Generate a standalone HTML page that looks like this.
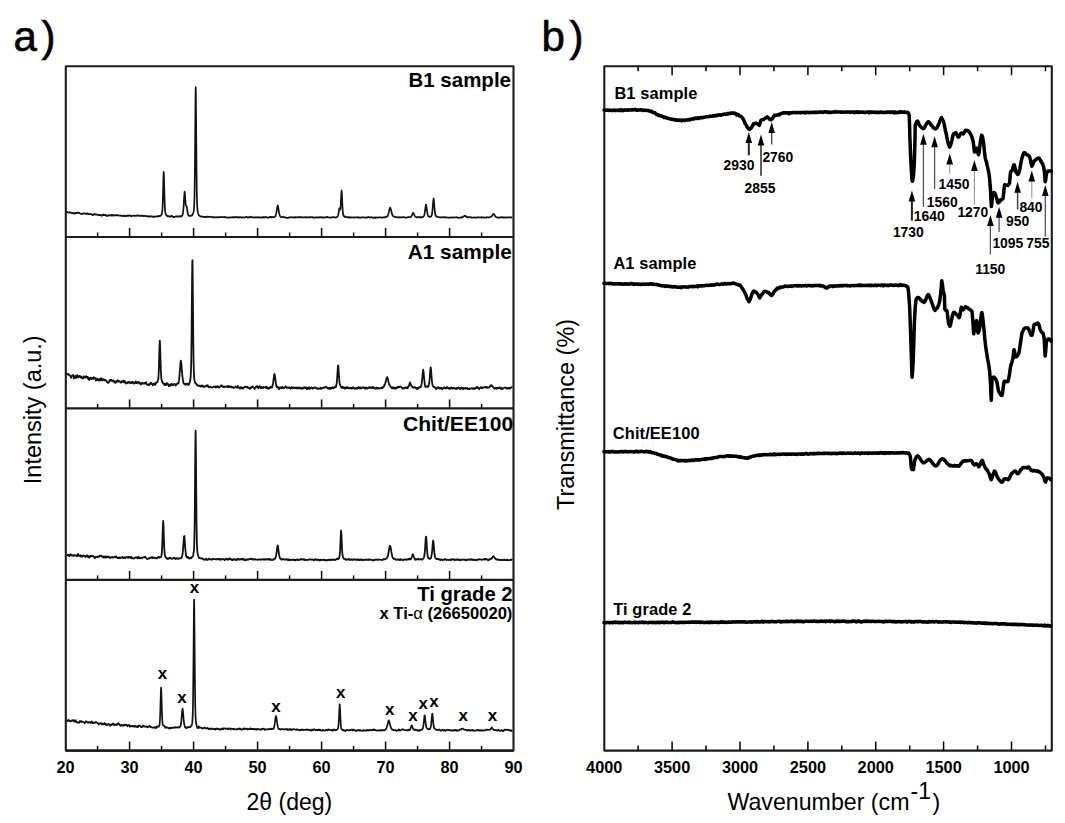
<!DOCTYPE html>
<html><head><meta charset="utf-8"><style>
html,body{margin:0;padding:0;background:#fff;}
body{width:1065px;height:823px;overflow:hidden;font-family:"Liberation Sans",sans-serif;}
svg{display:block;}
</style></head><body>
<svg width="1065" height="823" viewBox="0 0 1065 823">
<rect x="65.8" y="66.2" width="447.7" height="684.4" fill="none" stroke="#1c1c1c" stroke-width="2.1" stroke-linejoin="round"/>
<line x1="65.8" y1="237.0" x2="513.5" y2="237.0" stroke="#1c1c1c" stroke-width="2.1"/>
<line x1="65.8" y1="408.4" x2="513.5" y2="408.4" stroke="#1c1c1c" stroke-width="2.1"/>
<line x1="65.8" y1="579.9" x2="513.5" y2="579.9" stroke="#1c1c1c" stroke-width="2.1"/>
<line x1="65.8" y1="750.6" x2="513.5" y2="750.6" stroke="#1c1c1c" stroke-width="2.1"/>
<path d="M97.6,237.0 V232.5 M129.6,237.0 V228.0 M161.6,237.0 V232.5 M193.6,237.0 V228.0 M225.6,237.0 V232.5 M257.6,237.0 V228.0 M289.6,237.0 V232.5 M321.6,237.0 V228.0 M353.6,237.0 V232.5 M385.6,237.0 V228.0 M417.6,237.0 V232.5 M449.6,237.0 V228.0 M481.6,237.0 V232.5 M97.6,408.4 V403.9 M129.6,408.4 V399.4 M161.6,408.4 V403.9 M193.6,408.4 V399.4 M225.6,408.4 V403.9 M257.6,408.4 V399.4 M289.6,408.4 V403.9 M321.6,408.4 V399.4 M353.6,408.4 V403.9 M385.6,408.4 V399.4 M417.6,408.4 V403.9 M449.6,408.4 V399.4 M481.6,408.4 V403.9 M97.6,579.9 V575.4 M129.6,579.9 V570.9 M161.6,579.9 V575.4 M193.6,579.9 V570.9 M225.6,579.9 V575.4 M257.6,579.9 V570.9 M289.6,579.9 V575.4 M321.6,579.9 V570.9 M353.6,579.9 V575.4 M385.6,579.9 V570.9 M417.6,579.9 V575.4 M449.6,579.9 V570.9 M481.6,579.9 V575.4 M97.6,750.6 V746.1 M129.6,750.6 V741.6 M161.6,750.6 V746.1 M193.6,750.6 V741.6 M225.6,750.6 V746.1 M257.6,750.6 V741.6 M289.6,750.6 V746.1 M321.6,750.6 V741.6 M353.6,750.6 V746.1 M385.6,750.6 V741.6 M417.6,750.6 V746.1 M449.6,750.6 V741.6 M481.6,750.6 V746.1" stroke="#000" stroke-width="1.5" fill="none"/>
<path d="M66.50,211.96 L66.83,211.91 L67.16,211.84 L67.49,211.75 L67.82,212.48 L68.15,212.53 L68.48,212.74 L68.81,212.60 L69.14,212.75 L69.47,212.36 L69.80,212.47 L70.13,212.35 L70.46,212.67 L70.79,212.64 L71.12,212.56 L71.45,212.99 L71.78,212.84 L72.11,213.25 L72.44,213.21 L72.77,212.96 L73.10,213.10 L73.43,213.69 L73.76,213.16 L74.09,213.23 L74.42,213.51 L74.75,213.17 L75.08,212.90 L75.41,213.18 L75.74,212.77 L76.07,213.42 L76.40,213.17 L76.73,212.85 L77.06,213.21 L77.39,212.93 L77.72,212.48 L78.05,212.74 L78.38,212.97 L78.71,212.89 L79.04,212.74 L79.37,213.12 L79.70,213.34 L80.03,213.41 L80.36,213.63 L80.69,213.94 L81.02,213.92 L81.35,213.81 L81.68,213.60 L82.01,213.98 L82.34,213.75 L82.67,213.65 L83.00,213.52 L83.33,213.77 L83.66,213.43 L83.99,213.38 L84.32,213.47 L84.65,213.27 L84.98,213.26 L85.31,213.73 L85.64,213.83 L85.97,213.56 L86.30,213.52 L86.63,213.46 L86.96,214.03 L87.29,213.68 L87.62,213.51 L87.95,214.13 L88.28,213.94 L88.61,214.23 L88.94,213.85 L89.27,213.96 L89.60,214.20 L89.93,214.00 L90.26,214.02 L90.59,214.08 L90.92,213.86 L91.25,214.07 L91.58,214.32 L91.91,214.67 L92.24,214.78 L92.57,215.07 L92.90,214.66 L93.23,214.82 L93.56,214.48 L93.89,214.63 L94.22,213.96 L94.55,214.34 L94.88,214.15 L95.21,214.58 L95.54,214.48 L95.87,214.29 L96.20,214.41 L96.53,214.66 L96.86,214.69 L97.19,214.75 L97.52,214.70 L97.85,214.93 L98.18,214.91 L98.51,214.98 L98.84,215.21 L99.17,214.97 L99.50,214.98 L99.83,214.76 L100.16,215.15 L100.49,214.96 L100.82,215.08 L101.15,215.28 L101.48,215.73 L101.81,215.33 L102.14,215.72 L102.47,215.06 L102.80,214.76 L103.13,214.41 L103.46,215.17 L103.79,214.90 L104.12,215.13 L104.45,214.90 L104.78,215.26 L105.11,214.97 L105.44,214.76 L105.77,215.33 L106.10,215.35 L106.43,215.70 L106.76,215.54 L107.09,216.03 L107.42,215.53 L107.75,215.81 L108.08,215.41 L108.41,215.52 L108.74,215.20 L109.07,215.33 L109.40,215.37 L109.73,215.23 L110.06,215.15 L110.39,215.64 L110.72,215.16 L111.05,214.92 L111.38,215.32 L111.71,215.60 L112.04,214.95 L112.37,215.36 L112.70,215.53 L113.03,215.34 L113.36,214.90 L113.69,215.38 L114.02,215.06 L114.35,215.33 L114.68,215.57 L115.01,215.51 L115.34,215.38 L115.67,215.37 L116.00,215.17 L116.33,215.32 L116.66,214.91 L116.99,215.08 L117.32,215.42 L117.65,215.24 L117.98,215.45 L118.31,215.25 L118.64,215.47 L118.97,215.61 L119.30,215.76 L119.63,215.50 L119.96,215.67 L120.29,215.64 L120.62,215.68 L120.95,215.42 L121.28,215.86 L121.61,215.93 L121.94,215.69 L122.27,215.78 L122.60,216.18 L122.93,216.00 L123.26,215.78 L123.59,215.75 L123.92,215.62 L124.25,215.69 L124.58,216.23 L124.91,215.86 L125.24,216.26 L125.57,215.80 L125.90,215.93 L126.23,215.90 L126.56,215.94 L126.89,215.65 L127.22,216.02 L127.55,215.55 L127.88,215.80 L128.21,215.85 L128.54,215.91 L128.87,215.36 L129.20,215.49 L129.53,215.33 L129.86,215.31 L130.19,215.61 L130.52,216.02 L130.85,216.08 L131.18,216.19 L131.51,216.16 L131.84,215.88 L132.17,215.96 L132.50,215.92 L132.83,215.73 L133.16,215.74 L133.49,215.51 L133.82,215.79 L134.15,215.68 L134.48,215.77 L134.81,215.76 L135.14,215.99 L135.47,215.93 L135.80,215.63 L136.13,215.94 L136.46,215.57 L136.79,215.70 L137.12,215.60 L137.45,215.29 L137.78,215.55 L138.11,215.46 L138.44,215.60 L138.77,215.74 L139.10,215.70 L139.43,215.87 L139.76,215.92 L140.09,215.83 L140.42,215.55 L140.75,215.93 L141.08,215.78 L141.41,215.89 L141.74,215.96 L142.07,215.80 L142.40,215.60 L142.73,215.68 L143.06,216.06 L143.39,216.18 L143.72,216.15 L144.05,215.65 L144.38,215.80 L144.71,215.97 L145.04,216.02 L145.37,216.17 L145.70,216.09 L146.03,216.07 L146.36,216.20 L146.69,215.94 L147.02,216.15 L147.35,216.30 L147.68,216.58 L148.01,216.21 L148.34,216.39 L148.67,216.61 L149.00,216.46 L149.33,216.66 L149.66,216.11 L149.99,216.50 L150.32,216.49 L150.65,216.68 L150.98,216.31 L151.31,216.46 L151.64,216.14 L151.97,216.27 L152.30,216.56 L152.63,216.63 L152.96,216.90 L153.29,216.75 L153.62,216.94 L153.95,216.96 L154.28,216.38 L154.61,216.76 L154.94,216.68 L155.27,216.63 L155.60,216.45 L155.93,216.65 L156.26,216.49 L156.59,216.40 L156.92,216.35 L157.25,216.51 L157.58,216.63 L157.91,216.22 L158.24,216.20 L158.57,216.15 L158.90,215.88 L159.23,216.16 L159.56,216.28 L159.89,216.13 L160.22,216.07 L160.55,215.61 L160.88,215.20 L161.21,214.72 L161.54,214.62 L161.87,213.86 L162.20,212.07 L162.53,208.14 L162.86,199.31 L163.19,186.39 L163.52,174.30 L163.70,171.81 L163.85,173.29 L164.18,184.77 L164.51,198.13 L164.84,206.98 L165.17,211.64 L165.50,213.35 L165.83,214.56 L166.16,214.85 L166.49,215.30 L166.82,215.55 L167.15,215.86 L167.48,216.28 L167.81,216.29 L168.14,216.02 L168.47,216.08 L168.80,216.25 L169.13,216.23 L169.46,216.72 L169.79,216.41 L170.12,216.35 L170.45,216.05 L170.78,216.48 L171.11,216.19 L171.44,216.35 L171.77,215.95 L172.10,216.09 L172.43,216.24 L172.76,216.40 L173.09,216.97 L173.42,217.19 L173.75,217.10 L174.08,216.88 L174.41,217.10 L174.74,216.83 L175.07,216.74 L175.40,216.73 L175.73,216.37 L176.06,216.23 L176.39,216.38 L176.72,216.59 L177.05,216.25 L177.38,216.55 L177.71,216.70 L178.04,216.36 L178.37,216.39 L178.70,216.35 L179.03,216.58 L179.36,216.30 L179.69,216.43 L180.02,216.49 L180.35,216.26 L180.68,216.23 L181.01,215.91 L181.34,216.50 L181.67,215.98 L182.00,215.63 L182.33,215.32 L182.66,214.65 L182.99,212.90 L183.32,210.37 L183.65,206.15 L183.98,200.21 L184.31,194.23 L184.60,191.78 L184.64,191.68 L184.97,194.51 L185.30,199.81 L185.63,203.69 L185.96,205.51 L186.29,206.03 L186.62,206.18 L186.95,207.74 L187.28,210.27 L187.61,212.83 L187.94,214.09 L188.27,214.95 L188.60,215.58 L188.93,215.99 L189.26,215.90 L189.59,215.75 L189.92,215.75 L190.25,215.88 L190.58,215.80 L190.91,215.53 L191.24,215.62 L191.57,215.76 L191.90,215.59 L192.23,215.02 L192.56,214.48 L192.89,214.07 L193.22,213.08 L193.55,211.88 L193.88,209.94 L194.21,205.68 L194.54,195.18 L194.87,171.57 L195.20,132.56 L195.53,93.94 L195.70,87.00 L195.86,93.11 L196.19,131.51 L196.52,170.61 L196.85,194.87 L197.18,205.51 L197.51,210.49 L197.84,212.38 L198.17,213.51 L198.50,214.33 L198.83,215.12 L199.16,215.47 L199.49,215.72 L199.82,215.88 L200.15,216.26 L200.48,216.37 L200.81,216.48 L201.14,216.55 L201.47,216.50 L201.80,216.53 L202.13,216.54 L202.46,216.68 L202.79,216.70 L203.12,216.75 L203.45,216.98 L203.78,217.09 L204.11,217.12 L204.44,216.85 L204.77,217.02 L205.10,217.19 L205.43,217.15 L205.76,216.96 L206.09,216.94 L206.42,216.68 L206.75,216.75 L207.08,217.06 L207.41,216.77 L207.74,216.61 L208.07,216.77 L208.40,216.91 L208.73,216.95 L209.06,217.00 L209.39,216.90 L209.72,216.79 L210.05,216.84 L210.38,216.68 L210.71,216.69 L211.04,216.67 L211.37,216.83 L211.70,217.04 L212.03,217.00 L212.36,217.04 L212.69,217.26 L213.02,217.08 L213.35,217.28 L213.68,217.31 L214.01,217.22 L214.34,217.20 L214.67,217.49 L215.00,217.46 L215.33,217.44 L215.66,217.37 L215.99,217.19 L216.32,217.11 L216.65,217.39 L216.98,217.41 L217.31,217.07 L217.64,217.21 L217.97,217.32 L218.30,217.40 L218.63,217.41 L218.96,217.46 L219.29,217.10 L219.62,217.21 L219.95,216.97 L220.28,217.18 L220.61,217.11 L220.94,217.01 L221.27,217.02 L221.60,217.24 L221.93,217.22 L222.26,217.05 L222.59,217.23 L222.92,216.98 L223.25,216.99 L223.58,217.16 L223.91,217.02 L224.24,217.13 L224.57,216.80 L224.90,217.11 L225.23,217.11 L225.56,217.19 L225.89,217.47 L226.22,217.27 L226.55,217.47 L226.88,217.64 L227.21,217.66 L227.54,217.68 L227.87,217.55 L228.20,217.56 L228.53,217.32 L228.86,217.30 L229.19,217.56 L229.52,217.55 L229.85,217.59 L230.18,217.34 L230.51,217.47 L230.84,217.35 L231.17,217.30 L231.50,217.36 L231.83,217.50 L232.16,217.26 L232.49,217.13 L232.82,217.17 L233.15,217.25 L233.48,217.54 L233.81,217.15 L234.14,217.41 L234.47,217.24 L234.80,217.03 L235.13,216.96 L235.46,217.24 L235.79,217.18 L236.12,217.46 L236.45,217.07 L236.78,217.05 L237.11,217.29 L237.44,217.36 L237.77,217.29 L238.10,217.14 L238.43,217.66 L238.76,217.44 L239.09,217.28 L239.42,217.11 L239.75,217.27 L240.08,217.09 L240.41,217.14 L240.74,217.23 L241.07,217.56 L241.40,217.31 L241.73,217.36 L242.06,217.65 L242.39,217.52 L242.72,217.24 L243.05,217.36 L243.38,217.43 L243.71,217.33 L244.04,217.40 L244.37,217.67 L244.70,217.34 L245.03,217.31 L245.36,217.09 L245.69,217.22 L246.02,217.05 L246.35,216.88 L246.68,217.01 L247.01,217.09 L247.34,217.35 L247.67,217.21 L248.00,217.62 L248.33,217.24 L248.66,217.43 L248.99,217.58 L249.32,217.26 L249.65,217.13 L249.98,216.85 L250.31,216.65 L250.64,216.77 L250.97,216.76 L251.30,217.21 L251.63,217.40 L251.96,217.20 L252.29,217.25 L252.62,217.24 L252.95,217.32 L253.28,217.36 L253.61,217.22 L253.94,217.34 L254.27,217.25 L254.60,217.58 L254.93,217.49 L255.26,217.44 L255.59,217.43 L255.92,217.25 L256.25,217.12 L256.58,217.33 L256.91,217.55 L257.24,217.48 L257.57,217.45 L257.90,217.30 L258.23,217.45 L258.56,217.12 L258.89,217.50 L259.22,217.28 L259.55,217.70 L259.88,217.46 L260.21,217.44 L260.54,217.29 L260.87,217.37 L261.20,217.42 L261.53,217.56 L261.86,217.27 L262.19,217.29 L262.52,217.73 L262.85,217.34 L263.18,217.19 L263.51,217.21 L263.84,216.98 L264.17,217.56 L264.50,217.40 L264.83,217.05 L265.16,217.43 L265.49,217.19 L265.82,216.98 L266.15,217.27 L266.48,217.49 L266.81,217.39 L267.14,217.42 L267.47,217.60 L267.80,217.59 L268.13,217.65 L268.46,217.67 L268.79,217.51 L269.12,217.30 L269.45,216.92 L269.78,217.07 L270.11,216.92 L270.44,217.25 L270.77,216.97 L271.10,217.33 L271.43,217.18 L271.76,216.99 L272.09,217.38 L272.42,217.21 L272.75,217.05 L273.08,217.24 L273.41,217.17 L273.74,217.14 L274.07,216.96 L274.40,217.01 L274.73,216.78 L275.06,216.33 L275.39,216.30 L275.72,215.32 L276.05,214.10 L276.38,212.68 L276.71,210.65 L277.04,208.42 L277.37,206.13 L277.70,205.59 L277.70,205.29 L278.03,206.11 L278.36,208.03 L278.69,210.38 L279.02,212.45 L279.35,213.96 L279.68,215.00 L280.01,215.90 L280.34,216.44 L280.67,216.86 L281.00,217.17 L281.33,217.17 L281.66,217.38 L281.99,217.05 L282.32,217.01 L282.65,216.87 L282.98,216.82 L283.31,216.87 L283.64,217.16 L283.97,217.18 L284.30,217.31 L284.63,217.49 L284.96,217.46 L285.29,217.27 L285.62,217.34 L285.95,217.61 L286.28,217.80 L286.61,217.70 L286.94,217.94 L287.27,217.92 L287.60,217.85 L287.93,217.77 L288.26,217.80 L288.59,217.61 L288.92,217.53 L289.25,217.40 L289.58,217.34 L289.91,217.31 L290.24,217.43 L290.57,217.28 L290.90,217.33 L291.23,217.46 L291.56,217.18 L291.89,217.31 L292.22,217.47 L292.55,217.43 L292.88,217.42 L293.21,217.58 L293.54,217.41 L293.87,217.34 L294.20,217.60 L294.53,217.10 L294.86,217.24 L295.19,217.20 L295.52,217.34 L295.85,217.60 L296.18,217.31 L296.51,217.37 L296.84,217.36 L297.17,217.17 L297.50,217.28 L297.83,217.18 L298.16,217.20 L298.49,217.17 L298.82,217.19 L299.15,217.21 L299.48,217.41 L299.81,217.34 L300.14,216.85 L300.47,217.06 L300.80,217.40 L301.13,217.10 L301.46,217.44 L301.79,217.51 L302.12,217.39 L302.45,217.40 L302.78,217.50 L303.11,217.46 L303.44,217.47 L303.77,217.37 L304.10,217.36 L304.43,217.29 L304.76,217.21 L305.09,217.11 L305.42,217.29 L305.75,217.52 L306.08,217.15 L306.41,217.44 L306.74,217.27 L307.07,217.43 L307.40,217.37 L307.73,217.34 L308.06,217.46 L308.39,217.16 L308.72,217.46 L309.05,217.42 L309.38,217.12 L309.71,217.55 L310.04,217.42 L310.37,217.39 L310.70,217.16 L311.03,217.35 L311.36,217.12 L311.69,217.11 L312.02,216.96 L312.35,217.30 L312.68,217.51 L313.01,217.56 L313.34,217.70 L313.67,217.56 L314.00,217.62 L314.33,217.46 L314.66,217.27 L314.99,217.53 L315.32,217.39 L315.65,217.33 L315.98,217.51 L316.31,217.56 L316.64,217.69 L316.97,217.56 L317.30,217.29 L317.63,217.28 L317.96,217.06 L318.29,217.37 L318.62,217.31 L318.95,217.60 L319.28,217.50 L319.61,217.41 L319.94,216.99 L320.27,217.40 L320.60,217.45 L320.93,217.43 L321.26,217.46 L321.59,217.49 L321.92,217.28 L322.25,217.59 L322.58,217.46 L322.91,217.11 L323.24,217.31 L323.57,217.23 L323.90,217.54 L324.23,217.48 L324.56,217.67 L324.89,217.71 L325.22,217.39 L325.55,217.49 L325.88,217.39 L326.21,217.17 L326.54,216.95 L326.87,216.96 L327.20,216.95 L327.53,217.24 L327.86,217.33 L328.19,217.34 L328.52,217.44 L328.85,217.52 L329.18,217.36 L329.51,217.46 L329.84,217.63 L330.17,217.64 L330.50,217.75 L330.83,217.72 L331.16,217.66 L331.49,217.33 L331.82,217.44 L332.15,217.31 L332.48,217.11 L332.81,216.98 L333.14,217.06 L333.47,217.01 L333.80,217.24 L334.13,217.26 L334.46,217.48 L334.79,217.39 L335.12,217.62 L335.45,217.63 L335.78,217.40 L336.11,217.43 L336.44,217.24 L336.77,217.16 L337.10,216.70 L337.43,216.57 L337.76,216.20 L338.09,215.28 L338.42,213.67 L338.75,212.04 L339.08,209.69 L339.41,208.25 L339.74,208.76 L340.07,209.79 L340.40,208.78 L340.73,204.81 L341.06,198.46 L341.39,192.03 L341.60,190.39 L341.72,191.12 L342.05,197.43 L342.38,204.94 L342.71,210.60 L343.04,213.96 L343.37,215.20 L343.70,215.98 L344.03,216.30 L344.36,216.76 L344.69,216.40 L345.02,216.66 L345.35,217.01 L345.68,217.06 L346.01,216.93 L346.34,217.12 L346.67,217.09 L347.00,217.14 L347.33,217.16 L347.66,217.31 L347.99,217.14 L348.32,217.54 L348.65,217.22 L348.98,217.31 L349.31,217.57 L349.64,217.21 L349.97,217.33 L350.30,217.12 L350.63,217.37 L350.96,217.46 L351.29,217.39 L351.62,217.48 L351.95,217.61 L352.28,217.50 L352.61,217.51 L352.94,217.40 L353.27,217.52 L353.60,217.47 L353.93,217.47 L354.26,217.33 L354.59,217.30 L354.92,217.62 L355.25,217.48 L355.58,217.41 L355.91,217.29 L356.24,217.33 L356.57,217.41 L356.90,217.30 L357.23,217.15 L357.56,217.30 L357.89,217.55 L358.22,217.26 L358.55,217.69 L358.88,217.70 L359.21,217.71 L359.54,217.38 L359.87,217.60 L360.20,217.62 L360.53,217.73 L360.86,217.52 L361.19,217.75 L361.52,217.51 L361.85,217.33 L362.18,217.06 L362.51,217.46 L362.84,217.24 L363.17,217.35 L363.50,217.45 L363.83,217.49 L364.16,217.54 L364.49,217.47 L364.82,217.70 L365.15,217.39 L365.48,217.67 L365.81,217.48 L366.14,217.68 L366.47,217.79 L366.80,217.67 L367.13,217.65 L367.46,217.23 L367.79,217.27 L368.12,216.88 L368.45,217.10 L368.78,217.16 L369.11,217.36 L369.44,217.58 L369.77,217.30 L370.10,217.41 L370.43,217.27 L370.76,217.06 L371.09,217.40 L371.42,217.36 L371.75,217.39 L372.08,217.32 L372.41,217.59 L372.74,217.65 L373.07,217.58 L373.40,217.65 L373.73,217.89 L374.06,217.70 L374.39,217.30 L374.72,217.80 L375.05,217.52 L375.38,217.45 L375.71,217.79 L376.04,217.61 L376.37,217.37 L376.70,217.42 L377.03,217.57 L377.36,217.49 L377.69,217.58 L378.02,217.61 L378.35,217.40 L378.68,217.35 L379.01,217.26 L379.34,217.29 L379.67,217.27 L380.00,217.43 L380.33,217.40 L380.66,217.38 L380.99,217.48 L381.32,217.50 L381.65,217.56 L381.98,217.48 L382.31,217.73 L382.64,217.40 L382.97,217.33 L383.30,217.51 L383.63,217.30 L383.96,217.31 L384.29,217.43 L384.62,217.20 L384.95,217.08 L385.28,217.27 L385.61,217.11 L385.94,216.89 L386.27,217.02 L386.60,216.80 L386.93,216.60 L387.26,216.18 L387.59,216.13 L387.92,215.18 L388.25,214.24 L388.58,213.26 L388.91,211.90 L389.24,210.26 L389.57,208.89 L389.90,208.18 L390.20,207.51 L390.23,207.57 L390.56,208.44 L390.89,209.51 L391.22,210.61 L391.55,212.31 L391.88,213.61 L392.21,214.69 L392.54,215.25 L392.87,215.67 L393.20,216.21 L393.53,216.36 L393.86,216.31 L394.19,216.80 L394.52,216.80 L394.85,217.01 L395.18,216.88 L395.51,216.85 L395.84,217.12 L396.17,217.09 L396.50,217.14 L396.83,217.36 L397.16,217.25 L397.49,217.33 L397.82,217.32 L398.15,217.45 L398.48,217.51 L398.81,217.15 L399.14,217.36 L399.47,217.43 L399.80,217.56 L400.13,217.20 L400.46,217.40 L400.79,217.42 L401.12,217.24 L401.45,217.35 L401.78,217.33 L402.11,217.47 L402.44,217.49 L402.77,217.38 L403.10,217.14 L403.43,216.97 L403.76,217.20 L404.09,217.27 L404.42,217.43 L404.75,217.51 L405.08,217.48 L405.41,217.65 L405.74,217.46 L406.07,217.65 L406.40,217.68 L406.73,217.48 L407.06,217.47 L407.39,217.25 L407.72,217.31 L408.05,217.33 L408.38,217.06 L408.71,216.91 L409.04,217.22 L409.37,217.04 L409.70,217.06 L410.03,217.04 L410.36,217.24 L410.69,216.77 L411.02,216.78 L411.35,216.37 L411.68,215.88 L412.01,215.40 L412.34,214.36 L412.67,213.53 L413.00,213.03 L413.20,212.85 L413.33,212.83 L413.66,213.27 L413.99,214.22 L414.32,214.98 L414.65,215.62 L414.98,216.16 L415.31,216.58 L415.64,216.79 L415.97,216.92 L416.30,217.20 L416.63,217.42 L416.96,217.24 L417.29,217.17 L417.62,217.43 L417.95,217.01 L418.28,216.98 L418.61,217.01 L418.94,217.19 L419.27,216.97 L419.60,217.42 L419.93,217.34 L420.26,217.47 L420.59,217.37 L420.92,217.55 L421.25,217.17 L421.58,217.28 L421.91,217.38 L422.24,217.17 L422.57,216.75 L422.90,216.94 L423.23,216.75 L423.56,216.39 L423.89,215.99 L424.22,215.31 L424.55,213.91 L424.88,212.19 L425.21,209.57 L425.54,206.74 L425.87,204.82 L426.00,204.52 L426.20,205.03 L426.53,207.11 L426.86,209.51 L427.19,212.22 L427.52,213.77 L427.85,214.94 L428.18,215.88 L428.51,216.44 L428.84,216.52 L429.17,216.69 L429.50,216.89 L429.83,216.55 L430.16,216.83 L430.49,216.87 L430.82,216.68 L431.15,216.33 L431.48,215.78 L431.81,214.98 L432.14,213.11 L432.47,210.26 L432.80,206.49 L433.13,202.00 L433.46,198.90 L433.60,198.60 L433.79,198.96 L434.12,202.58 L434.45,207.38 L434.78,210.81 L435.11,213.54 L435.44,215.20 L435.77,215.91 L436.10,216.38 L436.43,216.23 L436.76,216.62 L437.09,216.72 L437.42,216.89 L437.75,217.02 L438.08,216.99 L438.41,217.08 L438.74,217.21 L439.07,217.14 L439.40,217.36 L439.73,217.35 L440.06,217.51 L440.39,217.30 L440.72,217.52 L441.05,217.34 L441.38,217.26 L441.71,217.18 L442.04,217.22 L442.37,217.41 L442.70,217.36 L443.03,217.48 L443.36,217.44 L443.69,217.06 L444.02,217.06 L444.35,217.26 L444.68,217.06 L445.01,217.35 L445.34,217.54 L445.67,217.37 L446.00,217.70 L446.33,217.53 L446.66,217.49 L446.99,217.30 L447.32,217.42 L447.65,217.49 L447.98,217.63 L448.31,217.62 L448.64,217.78 L448.97,217.52 L449.30,217.52 L449.63,217.49 L449.96,217.55 L450.29,217.43 L450.62,217.58 L450.95,217.61 L451.28,217.54 L451.61,217.45 L451.94,217.67 L452.27,217.33 L452.60,217.39 L452.93,217.51 L453.26,217.33 L453.59,217.43 L453.92,217.52 L454.25,217.66 L454.58,217.57 L454.91,217.27 L455.24,217.29 L455.57,217.24 L455.90,217.27 L456.23,217.18 L456.56,217.38 L456.89,217.47 L457.22,217.35 L457.55,217.59 L457.88,217.56 L458.21,217.94 L458.54,217.79 L458.87,217.83 L459.20,217.51 L459.53,217.56 L459.86,217.74 L460.19,217.54 L460.52,217.52 L460.85,217.54 L461.18,217.82 L461.51,217.41 L461.84,217.28 L462.17,217.20 L462.50,217.13 L462.83,216.84 L463.16,216.69 L463.49,216.45 L463.82,216.38 L464.15,216.17 L464.48,215.98 L464.80,216.19 L464.81,216.02 L465.14,215.64 L465.47,215.95 L465.80,216.35 L466.13,216.62 L466.46,217.01 L466.79,216.71 L467.12,216.89 L467.45,216.98 L467.78,217.32 L468.11,217.08 L468.44,217.23 L468.77,217.34 L469.10,217.39 L469.43,217.03 L469.76,217.16 L470.09,217.26 L470.42,217.19 L470.75,217.43 L471.08,217.24 L471.41,217.66 L471.74,217.50 L472.07,217.71 L472.40,217.71 L472.73,217.56 L473.06,217.69 L473.39,217.77 L473.72,217.63 L474.05,217.75 L474.38,217.68 L474.71,217.34 L475.04,217.41 L475.37,217.48 L475.70,217.51 L476.03,217.48 L476.36,217.75 L476.69,217.49 L477.02,217.53 L477.35,217.44 L477.68,217.45 L478.01,217.18 L478.34,217.28 L478.67,217.46 L479.00,217.48 L479.33,217.51 L479.66,217.41 L479.99,217.23 L480.32,217.31 L480.65,217.36 L480.98,217.35 L481.31,217.21 L481.64,217.85 L481.97,217.43 L482.30,217.60 L482.63,217.39 L482.96,217.34 L483.29,217.22 L483.62,217.52 L483.95,217.54 L484.28,217.50 L484.61,217.60 L484.94,217.75 L485.27,217.70 L485.60,217.60 L485.93,217.59 L486.26,217.62 L486.59,217.30 L486.92,217.10 L487.25,217.33 L487.58,217.26 L487.91,217.49 L488.24,217.33 L488.57,217.30 L488.90,217.53 L489.23,217.35 L489.56,217.27 L489.89,217.24 L490.22,217.07 L490.55,216.96 L490.88,216.77 L491.21,216.51 L491.54,216.51 L491.87,216.09 L492.20,215.52 L492.53,214.99 L492.86,214.53 L493.19,214.15 L493.40,214.08 L493.52,214.25 L493.85,214.05 L494.18,214.59 L494.51,215.05 L494.84,215.84 L495.17,216.22 L495.50,216.54 L495.83,216.84 L496.16,217.04 L496.49,217.00 L496.82,217.39 L497.15,217.68 L497.48,217.29 L497.81,217.59 L498.14,217.66 L498.47,217.53 L498.80,217.64 L499.13,217.60 L499.46,217.50 L499.79,217.37 L500.12,217.57 L500.45,217.30 L500.78,217.40 L501.11,217.46 L501.44,217.25 L501.77,217.11 L502.10,217.26 L502.43,217.43 L502.76,217.54 L503.09,217.30 L503.42,217.51 L503.75,217.66 L504.08,217.34 L504.41,217.59 L504.74,217.45 L505.07,217.46 L505.40,217.30 L505.73,217.57 L506.06,217.35 L506.39,217.71 L506.72,217.48 L507.05,217.53 L507.38,217.32 L507.71,217.45 L508.04,217.30 L508.37,217.41 L508.70,217.47 L509.03,217.28 L509.36,217.47 L509.69,217.29 L510.02,217.42 L510.35,217.34 L510.68,217.62 L511.01,217.33 L511.34,217.48 L511.67,217.37 L512.00,217.59 L512.33,217.55" stroke="#111" stroke-width="1.7" fill="none" stroke-linejoin="round"/>
<path d="M66.50,373.45 L66.83,373.80 L67.16,373.92 L67.49,374.17 L67.82,374.22 L68.15,374.68 L68.48,374.09 L68.81,374.46 L69.14,374.76 L69.47,374.84 L69.80,375.43 L70.13,375.91 L70.46,375.94 L70.79,376.20 L71.12,377.77 L71.45,376.58 L71.78,375.93 L72.11,375.67 L72.44,375.85 L72.77,375.20 L73.10,375.48 L73.43,374.96 L73.76,378.50 L74.09,376.53 L74.42,377.57 L74.75,377.17 L75.08,376.64 L75.41,375.99 L75.74,378.14 L76.07,377.72 L76.40,375.61 L76.73,375.53 L77.06,376.20 L77.39,375.27 L77.72,375.85 L78.05,377.52 L78.38,376.57 L78.71,376.92 L79.04,376.42 L79.37,376.02 L79.70,376.39 L80.03,376.46 L80.36,377.61 L80.69,376.13 L81.02,376.63 L81.35,377.12 L81.68,376.93 L82.01,378.07 L82.34,378.14 L82.67,378.17 L83.00,378.40 L83.33,377.25 L83.66,376.54 L83.99,377.62 L84.32,376.30 L84.65,377.64 L84.98,377.78 L85.31,377.42 L85.64,376.63 L85.97,376.69 L86.30,376.24 L86.63,376.99 L86.96,377.46 L87.29,376.92 L87.62,376.89 L87.95,378.73 L88.28,377.47 L88.61,377.67 L88.94,379.48 L89.27,380.06 L89.60,378.73 L89.93,379.44 L90.26,377.66 L90.59,378.63 L90.92,377.90 L91.25,379.04 L91.58,378.34 L91.91,378.53 L92.24,377.98 L92.57,378.70 L92.90,378.74 L93.23,378.89 L93.56,377.23 L93.89,378.29 L94.22,377.75 L94.55,377.92 L94.88,377.81 L95.21,378.90 L95.54,378.18 L95.87,380.63 L96.20,379.36 L96.53,379.52 L96.86,379.73 L97.19,379.98 L97.52,378.54 L97.85,380.18 L98.18,380.33 L98.51,380.46 L98.84,380.47 L99.17,380.39 L99.50,379.12 L99.83,379.53 L100.16,380.51 L100.49,378.70 L100.82,378.32 L101.15,378.33 L101.48,379.31 L101.81,378.48 L102.14,380.50 L102.47,380.09 L102.80,380.18 L103.13,379.33 L103.46,379.89 L103.79,379.20 L104.12,380.09 L104.45,380.33 L104.78,380.08 L105.11,379.89 L105.44,380.43 L105.77,380.27 L106.10,380.34 L106.43,380.92 L106.76,381.76 L107.09,382.23 L107.42,382.48 L107.75,382.25 L108.08,382.94 L108.41,382.90 L108.74,382.31 L109.07,381.99 L109.40,380.62 L109.73,380.89 L110.06,379.90 L110.39,380.31 L110.72,379.80 L111.05,380.64 L111.38,380.06 L111.71,380.50 L112.04,380.51 L112.37,381.01 L112.70,381.09 L113.03,380.23 L113.36,381.57 L113.69,380.98 L114.02,381.09 L114.35,382.30 L114.68,381.81 L115.01,381.98 L115.34,382.83 L115.67,381.36 L116.00,382.45 L116.33,381.02 L116.66,381.42 L116.99,381.71 L117.32,380.54 L117.65,380.22 L117.98,381.30 L118.31,380.78 L118.64,381.66 L118.97,381.27 L119.30,381.20 L119.63,381.20 L119.96,381.40 L120.29,381.62 L120.62,382.42 L120.95,382.60 L121.28,382.48 L121.61,382.02 L121.94,381.13 L122.27,381.19 L122.60,381.85 L122.93,381.36 L123.26,380.65 L123.59,381.39 L123.92,382.20 L124.25,382.03 L124.58,380.92 L124.91,382.12 L125.24,381.65 L125.57,383.23 L125.90,382.60 L126.23,383.47 L126.56,383.15 L126.89,382.93 L127.22,383.11 L127.55,382.27 L127.88,382.59 L128.21,382.73 L128.54,381.82 L128.87,382.02 L129.20,382.40 L129.53,382.28 L129.86,382.14 L130.19,383.15 L130.52,383.18 L130.85,383.27 L131.18,382.72 L131.51,382.01 L131.84,382.93 L132.17,382.14 L132.50,382.37 L132.83,381.80 L133.16,383.06 L133.49,383.15 L133.82,383.63 L134.15,383.54 L134.48,382.65 L134.81,383.17 L135.14,382.71 L135.47,382.07 L135.80,381.26 L136.13,382.72 L136.46,383.16 L136.79,382.63 L137.12,383.18 L137.45,383.34 L137.78,382.94 L138.11,381.78 L138.44,382.45 L138.77,382.57 L139.10,382.22 L139.43,382.74 L139.76,382.84 L140.09,383.49 L140.42,383.02 L140.75,384.58 L141.08,383.35 L141.41,383.79 L141.74,383.44 L142.07,382.93 L142.40,382.58 L142.73,383.25 L143.06,383.81 L143.39,383.64 L143.72,383.38 L144.05,383.41 L144.38,383.21 L144.71,383.44 L145.04,382.71 L145.37,383.62 L145.70,383.76 L146.03,382.18 L146.36,383.43 L146.69,383.87 L147.02,384.62 L147.35,384.82 L147.68,384.85 L148.01,385.10 L148.34,385.12 L148.67,384.37 L149.00,385.22 L149.33,384.32 L149.66,383.76 L149.99,383.96 L150.32,383.53 L150.65,382.81 L150.98,383.79 L151.31,382.83 L151.64,383.82 L151.97,383.98 L152.30,384.28 L152.63,384.41 L152.96,385.33 L153.29,383.84 L153.62,383.99 L153.95,384.19 L154.28,383.48 L154.61,383.77 L154.94,384.68 L155.27,384.83 L155.60,383.90 L155.93,382.72 L156.26,382.84 L156.59,382.50 L156.92,382.13 L157.25,382.25 L157.58,381.51 L157.91,379.92 L158.24,379.70 L158.57,375.78 L158.90,368.03 L159.23,355.54 L159.56,344.61 L159.80,340.72 L159.89,341.15 L160.22,349.97 L160.55,361.73 L160.88,371.44 L161.21,377.33 L161.54,379.48 L161.87,380.39 L162.20,382.07 L162.53,381.63 L162.86,382.95 L163.19,383.29 L163.52,383.70 L163.85,383.62 L164.18,384.43 L164.51,385.13 L164.84,383.79 L165.17,384.69 L165.50,383.94 L165.83,385.07 L166.16,383.85 L166.49,383.23 L166.82,382.96 L167.15,383.71 L167.48,384.63 L167.81,384.23 L168.14,384.30 L168.47,384.15 L168.80,386.33 L169.13,384.85 L169.46,385.07 L169.79,385.31 L170.12,385.49 L170.45,385.72 L170.78,384.74 L171.11,383.93 L171.44,384.90 L171.77,383.97 L172.10,384.04 L172.43,384.53 L172.76,385.43 L173.09,384.25 L173.42,384.65 L173.75,384.83 L174.08,384.65 L174.41,383.84 L174.74,384.24 L175.07,384.52 L175.40,384.65 L175.73,385.67 L176.06,384.84 L176.39,384.78 L176.72,383.96 L177.05,383.93 L177.38,383.41 L177.71,383.60 L178.04,383.15 L178.37,383.54 L178.70,381.76 L179.03,380.39 L179.36,377.19 L179.69,372.81 L180.02,369.07 L180.35,364.19 L180.68,361.18 L180.90,360.58 L181.01,361.64 L181.34,363.47 L181.67,368.07 L182.00,371.97 L182.33,375.59 L182.66,378.08 L182.99,380.45 L183.32,382.68 L183.65,383.46 L183.98,383.41 L184.31,383.80 L184.64,383.77 L184.97,384.45 L185.30,384.86 L185.63,384.20 L185.96,384.42 L186.29,384.12 L186.62,383.62 L186.95,383.79 L187.28,384.24 L187.61,383.73 L187.94,384.15 L188.27,385.13 L188.60,384.49 L188.93,384.61 L189.26,383.74 L189.59,382.40 L189.92,381.92 L190.25,380.02 L190.58,377.75 L190.91,372.22 L191.24,360.75 L191.57,336.11 L191.90,298.98 L192.23,265.79 L192.40,260.13 L192.56,264.28 L192.89,298.13 L193.22,335.44 L193.55,360.10 L193.88,372.68 L194.21,378.20 L194.54,380.66 L194.87,381.77 L195.20,382.97 L195.53,383.01 L195.86,383.32 L196.19,383.61 L196.52,384.70 L196.85,384.37 L197.18,385.10 L197.51,385.31 L197.84,385.63 L198.17,385.51 L198.50,385.89 L198.83,385.63 L199.16,385.72 L199.49,385.73 L199.82,386.06 L200.15,386.30 L200.48,386.61 L200.81,385.69 L201.14,385.74 L201.47,386.05 L201.80,385.47 L202.13,386.05 L202.46,386.45 L202.79,385.63 L203.12,386.53 L203.45,386.83 L203.78,386.64 L204.11,386.68 L204.44,386.81 L204.77,386.64 L205.10,386.30 L205.43,386.64 L205.76,386.27 L206.09,385.96 L206.42,385.77 L206.75,386.06 L207.08,385.23 L207.41,385.67 L207.74,385.29 L208.07,386.38 L208.40,386.67 L208.73,387.32 L209.06,387.39 L209.39,387.38 L209.72,387.13 L210.05,386.99 L210.38,386.63 L210.71,386.77 L211.04,387.06 L211.37,387.35 L211.70,387.61 L212.03,387.54 L212.36,387.39 L212.69,387.27 L213.02,387.02 L213.35,386.98 L213.68,386.57 L214.01,386.92 L214.34,386.93 L214.67,386.64 L215.00,386.88 L215.33,386.48 L215.66,387.51 L215.99,387.22 L216.32,386.61 L216.65,386.61 L216.98,387.17 L217.31,386.10 L217.64,387.10 L217.97,386.98 L218.30,386.80 L218.63,387.36 L218.96,387.52 L219.29,387.30 L219.62,387.13 L219.95,386.53 L220.28,386.51 L220.61,386.12 L220.94,385.45 L221.27,386.18 L221.60,386.34 L221.93,385.31 L222.26,386.17 L222.59,386.72 L222.92,386.59 L223.25,386.96 L223.58,386.63 L223.91,386.57 L224.24,386.49 L224.57,387.04 L224.90,386.87 L225.23,386.95 L225.56,386.79 L225.89,386.61 L226.22,386.75 L226.55,386.47 L226.88,386.85 L227.21,386.19 L227.54,386.83 L227.87,386.95 L228.20,387.12 L228.53,386.00 L228.86,386.20 L229.19,387.16 L229.52,387.11 L229.85,386.63 L230.18,386.59 L230.51,386.30 L230.84,386.44 L231.17,387.24 L231.50,387.19 L231.83,386.83 L232.16,387.35 L232.49,387.49 L232.82,387.56 L233.15,387.26 L233.48,387.83 L233.81,387.83 L234.14,387.71 L234.47,387.60 L234.80,387.38 L235.13,387.27 L235.46,386.50 L235.79,386.79 L236.12,387.00 L236.45,387.26 L236.78,387.18 L237.11,387.74 L237.44,386.67 L237.77,386.04 L238.10,386.64 L238.43,387.17 L238.76,387.11 L239.09,387.76 L239.42,388.06 L239.75,388.58 L240.08,387.96 L240.41,387.74 L240.74,387.34 L241.07,387.11 L241.40,388.29 L241.73,387.68 L242.06,388.21 L242.39,388.26 L242.72,387.86 L243.05,388.64 L243.38,387.84 L243.71,387.41 L244.04,387.46 L244.37,386.99 L244.70,386.96 L245.03,386.60 L245.36,386.80 L245.69,387.12 L246.02,386.83 L246.35,386.85 L246.68,387.28 L247.01,387.38 L247.34,386.81 L247.67,387.07 L248.00,387.86 L248.33,387.65 L248.66,388.05 L248.99,388.00 L249.32,388.53 L249.65,388.83 L249.98,388.52 L250.31,387.73 L250.64,388.17 L250.97,387.20 L251.30,387.85 L251.63,386.90 L251.96,387.13 L252.29,386.94 L252.62,386.44 L252.95,387.06 L253.28,387.07 L253.61,387.65 L253.94,387.65 L254.27,388.06 L254.60,389.01 L254.93,388.36 L255.26,387.65 L255.59,387.14 L255.92,387.47 L256.25,386.69 L256.58,386.58 L256.91,386.12 L257.24,386.10 L257.57,386.49 L257.90,387.87 L258.23,387.61 L258.56,388.12 L258.89,387.09 L259.22,387.45 L259.55,386.55 L259.88,386.15 L260.21,386.55 L260.54,387.48 L260.87,388.08 L261.20,387.00 L261.53,387.31 L261.86,388.08 L262.19,387.39 L262.52,387.83 L262.85,387.55 L263.18,387.73 L263.51,386.92 L263.84,387.30 L264.17,387.06 L264.50,387.29 L264.83,387.34 L265.16,387.55 L265.49,387.31 L265.82,387.89 L266.15,386.64 L266.48,387.46 L266.81,388.19 L267.14,388.18 L267.47,387.43 L267.80,388.33 L268.13,388.25 L268.46,388.87 L268.79,387.98 L269.12,388.20 L269.45,387.92 L269.78,388.01 L270.11,386.88 L270.44,387.22 L270.77,387.21 L271.10,386.94 L271.43,387.44 L271.76,387.22 L272.09,387.53 L272.42,385.95 L272.75,384.70 L273.08,383.63 L273.41,380.55 L273.74,378.25 L274.07,375.70 L274.40,373.80 L274.50,374.12 L274.73,375.15 L275.06,376.93 L275.39,379.58 L275.72,382.03 L276.05,384.50 L276.38,386.01 L276.71,387.22 L277.04,386.37 L277.37,386.95 L277.70,387.15 L278.03,388.00 L278.36,387.45 L278.69,389.02 L279.02,389.21 L279.35,387.52 L279.68,388.46 L280.01,388.24 L280.34,387.57 L280.67,387.29 L281.00,387.79 L281.33,387.33 L281.66,388.17 L281.99,387.50 L282.32,386.98 L282.65,387.81 L282.98,387.92 L283.31,387.76 L283.64,388.05 L283.97,388.12 L284.30,387.79 L284.63,387.39 L284.96,387.06 L285.29,387.06 L285.62,386.22 L285.95,387.27 L286.28,387.12 L286.61,387.81 L286.94,387.57 L287.27,387.45 L287.60,387.77 L287.93,387.60 L288.26,387.88 L288.59,387.79 L288.92,387.44 L289.25,387.73 L289.58,387.53 L289.91,387.83 L290.24,388.20 L290.57,388.70 L290.90,388.40 L291.23,387.71 L291.56,387.14 L291.89,387.15 L292.22,388.28 L292.55,387.76 L292.88,387.85 L293.21,387.85 L293.54,388.01 L293.87,387.28 L294.20,387.57 L294.53,387.86 L294.86,387.84 L295.19,387.99 L295.52,387.76 L295.85,387.58 L296.18,387.46 L296.51,388.39 L296.84,387.49 L297.17,388.06 L297.50,388.41 L297.83,388.41 L298.16,388.01 L298.49,387.69 L298.82,388.39 L299.15,387.50 L299.48,388.28 L299.81,387.66 L300.14,388.25 L300.47,387.85 L300.80,388.67 L301.13,388.40 L301.46,387.72 L301.79,388.84 L302.12,387.76 L302.45,388.22 L302.78,388.67 L303.11,388.16 L303.44,388.21 L303.77,387.79 L304.10,387.17 L304.43,387.79 L304.76,387.45 L305.09,387.64 L305.42,388.17 L305.75,388.16 L306.08,387.39 L306.41,387.73 L306.74,388.97 L307.07,388.81 L307.40,387.94 L307.73,388.83 L308.06,388.50 L308.39,388.02 L308.72,388.03 L309.05,387.20 L309.38,387.79 L309.71,388.90 L310.04,388.16 L310.37,388.32 L310.70,388.22 L311.03,387.72 L311.36,387.47 L311.69,388.06 L312.02,388.41 L312.35,388.16 L312.68,388.69 L313.01,388.04 L313.34,387.73 L313.67,387.58 L314.00,388.14 L314.33,387.76 L314.66,387.70 L314.99,387.47 L315.32,387.48 L315.65,387.79 L315.98,387.59 L316.31,388.19 L316.64,387.84 L316.97,388.81 L317.30,388.75 L317.63,388.76 L317.96,388.68 L318.29,388.41 L318.62,388.35 L318.95,388.78 L319.28,388.91 L319.61,388.34 L319.94,388.50 L320.27,388.47 L320.60,387.63 L320.93,388.91 L321.26,388.62 L321.59,388.67 L321.92,388.34 L322.25,388.02 L322.58,387.85 L322.91,387.62 L323.24,387.51 L323.57,387.92 L323.90,387.76 L324.23,387.45 L324.56,387.75 L324.89,387.36 L325.22,387.30 L325.55,386.99 L325.88,386.96 L326.21,386.82 L326.54,387.46 L326.87,387.67 L327.20,388.17 L327.53,387.68 L327.86,388.46 L328.19,388.58 L328.52,387.99 L328.85,388.41 L329.18,388.74 L329.51,387.76 L329.84,388.11 L330.17,388.16 L330.50,387.80 L330.83,388.88 L331.16,388.51 L331.49,388.43 L331.82,387.72 L332.15,388.17 L332.48,387.47 L332.81,387.40 L333.14,387.38 L333.47,388.36 L333.80,387.75 L334.13,387.30 L334.46,387.62 L334.79,387.09 L335.12,387.32 L335.45,386.44 L335.78,387.19 L336.11,385.69 L336.44,384.89 L336.77,382.61 L337.10,378.54 L337.43,373.49 L337.76,368.05 L338.09,365.73 L338.10,365.43 L338.42,367.46 L338.75,372.77 L339.08,377.54 L339.41,381.80 L339.74,383.75 L340.07,384.70 L340.40,385.63 L340.73,386.47 L341.06,386.69 L341.39,387.75 L341.72,387.18 L342.05,387.13 L342.38,386.65 L342.71,387.42 L343.04,387.99 L343.37,387.29 L343.70,388.04 L344.03,387.48 L344.36,387.50 L344.69,388.66 L345.02,387.67 L345.35,388.24 L345.68,388.51 L346.01,387.47 L346.34,387.68 L346.67,388.07 L347.00,387.90 L347.33,387.12 L347.66,387.72 L347.99,388.17 L348.32,387.45 L348.65,388.11 L348.98,388.45 L349.31,388.14 L349.64,388.07 L349.97,388.05 L350.30,387.93 L350.63,388.33 L350.96,387.82 L351.29,388.61 L351.62,388.55 L351.95,388.52 L352.28,387.65 L352.61,387.43 L352.94,388.18 L353.27,387.49 L353.60,387.64 L353.93,387.90 L354.26,388.43 L354.59,388.21 L354.92,388.76 L355.25,388.43 L355.58,388.05 L355.91,388.10 L356.24,387.86 L356.57,388.60 L356.90,387.81 L357.23,388.74 L357.56,387.93 L357.89,388.04 L358.22,387.77 L358.55,387.03 L358.88,388.26 L359.21,388.41 L359.54,387.65 L359.87,387.96 L360.20,388.19 L360.53,387.33 L360.86,388.49 L361.19,388.28 L361.52,388.24 L361.85,387.91 L362.18,387.94 L362.51,387.68 L362.84,387.26 L363.17,387.85 L363.50,387.57 L363.83,387.51 L364.16,387.61 L364.49,387.77 L364.82,388.16 L365.15,388.74 L365.48,387.95 L365.81,387.57 L366.14,388.25 L366.47,387.97 L366.80,387.84 L367.13,388.67 L367.46,388.57 L367.79,388.07 L368.12,387.44 L368.45,387.93 L368.78,387.55 L369.11,387.79 L369.44,387.15 L369.77,387.54 L370.10,387.71 L370.43,387.40 L370.76,387.66 L371.09,388.01 L371.42,387.74 L371.75,387.57 L372.08,387.99 L372.41,386.86 L372.74,387.84 L373.07,387.78 L373.40,387.45 L373.73,387.23 L374.06,388.26 L374.39,388.21 L374.72,388.27 L375.05,388.74 L375.38,388.33 L375.71,388.65 L376.04,388.70 L376.37,387.59 L376.70,387.92 L377.03,388.34 L377.36,387.82 L377.69,387.82 L378.02,388.64 L378.35,388.15 L378.68,388.40 L379.01,388.11 L379.34,388.13 L379.67,388.42 L380.00,388.08 L380.33,388.15 L380.66,388.34 L380.99,388.34 L381.32,387.85 L381.65,387.51 L381.98,388.03 L382.31,387.52 L382.64,388.07 L382.97,387.04 L383.30,386.99 L383.63,386.69 L383.96,386.44 L384.29,385.01 L384.62,385.24 L384.95,384.19 L385.28,383.25 L385.61,381.58 L385.94,381.45 L386.27,379.05 L386.60,378.90 L386.93,377.67 L387.10,377.47 L387.26,377.06 L387.59,378.52 L387.92,379.09 L388.25,380.60 L388.58,382.20 L388.91,383.75 L389.24,384.60 L389.57,384.82 L389.90,385.38 L390.23,386.16 L390.56,386.43 L390.89,386.96 L391.22,386.94 L391.55,388.07 L391.88,388.03 L392.21,387.49 L392.54,387.86 L392.87,387.28 L393.20,388.54 L393.53,388.23 L393.86,388.43 L394.19,388.45 L394.52,387.63 L394.85,388.21 L395.18,387.50 L395.51,387.71 L395.84,388.70 L396.17,388.32 L396.50,387.86 L396.83,388.08 L397.16,387.16 L397.49,387.00 L397.82,386.94 L398.15,387.27 L398.48,386.79 L398.81,386.70 L399.14,387.24 L399.47,386.91 L399.80,386.81 L400.13,386.72 L400.46,386.66 L400.79,386.60 L401.12,386.89 L401.45,387.54 L401.78,387.73 L402.11,387.77 L402.44,388.60 L402.77,388.41 L403.10,388.02 L403.43,388.56 L403.76,388.62 L404.09,388.41 L404.42,388.00 L404.75,387.91 L405.08,387.85 L405.41,387.38 L405.74,387.89 L406.07,387.32 L406.40,387.43 L406.73,387.57 L407.06,388.35 L407.39,387.37 L407.72,388.11 L408.05,386.60 L408.38,386.33 L408.71,386.24 L409.04,385.21 L409.37,384.23 L409.70,383.17 L410.03,382.53 L410.20,383.33 L410.36,383.32 L410.69,384.08 L411.02,385.23 L411.35,385.52 L411.68,386.50 L412.01,386.41 L412.34,386.89 L412.67,387.29 L413.00,387.61 L413.33,387.73 L413.66,387.65 L413.99,387.42 L414.32,387.00 L414.65,387.21 L414.98,387.40 L415.31,387.61 L415.64,388.11 L415.97,388.39 L416.30,387.96 L416.63,387.94 L416.96,389.20 L417.29,388.72 L417.62,387.94 L417.95,387.91 L418.28,388.25 L418.61,387.94 L418.94,387.82 L419.27,387.07 L419.60,387.31 L419.93,387.35 L420.26,387.24 L420.59,386.75 L420.92,386.72 L421.25,385.22 L421.58,384.17 L421.91,381.75 L422.24,379.10 L422.57,374.51 L422.90,371.81 L423.20,369.59 L423.23,370.20 L423.56,371.67 L423.89,375.78 L424.22,378.87 L424.55,382.14 L424.88,384.98 L425.21,386.55 L425.54,387.06 L425.87,386.17 L426.20,386.56 L426.53,386.45 L426.86,386.67 L427.19,386.78 L427.52,386.94 L427.85,386.94 L428.18,385.70 L428.51,386.15 L428.84,384.27 L429.17,383.31 L429.50,380.39 L429.83,377.13 L430.16,371.76 L430.49,368.50 L430.70,367.30 L430.82,367.73 L431.15,371.07 L431.48,375.98 L431.81,379.43 L432.14,382.95 L432.47,384.83 L432.80,385.95 L433.13,386.31 L433.46,386.29 L433.79,387.02 L434.12,387.17 L434.45,386.87 L434.78,387.14 L435.11,387.69 L435.44,387.66 L435.77,388.33 L436.10,389.06 L436.43,388.45 L436.76,388.60 L437.09,387.98 L437.42,387.65 L437.75,387.35 L438.08,387.06 L438.41,387.45 L438.74,387.61 L439.07,388.43 L439.40,387.82 L439.73,388.69 L440.06,387.79 L440.39,387.90 L440.72,388.28 L441.05,388.52 L441.38,387.77 L441.71,389.01 L442.04,389.39 L442.37,388.56 L442.70,388.59 L443.03,388.30 L443.36,388.16 L443.69,388.08 L444.02,387.28 L444.35,387.27 L444.68,387.80 L445.01,388.11 L445.34,388.56 L445.67,387.81 L446.00,388.37 L446.33,387.62 L446.66,387.57 L446.99,386.98 L447.32,387.28 L447.65,387.39 L447.98,388.28 L448.31,388.65 L448.64,388.14 L448.97,388.26 L449.30,388.68 L449.63,388.04 L449.96,388.47 L450.29,388.81 L450.62,388.62 L450.95,387.84 L451.28,387.39 L451.61,388.17 L451.94,388.40 L452.27,388.35 L452.60,388.53 L452.93,388.02 L453.26,388.36 L453.59,388.00 L453.92,387.98 L454.25,387.96 L454.58,388.55 L454.91,388.41 L455.24,388.68 L455.57,388.27 L455.90,388.48 L456.23,388.62 L456.56,388.95 L456.89,387.95 L457.22,387.92 L457.55,388.23 L457.88,387.94 L458.21,387.50 L458.54,388.07 L458.87,387.79 L459.20,388.25 L459.53,388.91 L459.86,388.90 L460.19,389.11 L460.52,388.82 L460.85,388.46 L461.18,387.73 L461.51,387.86 L461.84,387.63 L462.17,388.31 L462.50,388.73 L462.83,389.19 L463.16,388.23 L463.49,387.91 L463.82,388.49 L464.15,388.19 L464.48,388.16 L464.81,388.28 L465.14,388.71 L465.47,388.00 L465.80,388.17 L466.13,388.40 L466.46,388.19 L466.79,388.06 L467.12,387.93 L467.45,388.99 L467.78,389.08 L468.11,389.07 L468.44,389.17 L468.77,388.80 L469.10,388.51 L469.43,388.39 L469.76,389.04 L470.09,388.80 L470.42,388.95 L470.75,388.80 L471.08,388.39 L471.41,388.45 L471.74,388.20 L472.07,388.11 L472.40,388.14 L472.73,388.71 L473.06,388.72 L473.39,388.87 L473.72,389.01 L474.05,388.08 L474.38,388.61 L474.71,389.11 L475.04,388.78 L475.37,387.91 L475.70,388.18 L476.03,388.20 L476.36,387.45 L476.69,387.21 L477.02,387.72 L477.35,386.86 L477.68,388.00 L478.01,387.83 L478.34,388.32 L478.67,388.22 L479.00,388.58 L479.33,389.23 L479.66,388.42 L479.99,388.25 L480.32,387.43 L480.65,387.57 L480.98,387.03 L481.31,387.92 L481.64,387.83 L481.97,387.86 L482.30,388.29 L482.63,387.69 L482.96,387.79 L483.29,387.34 L483.62,387.09 L483.95,387.37 L484.28,387.36 L484.61,387.42 L484.94,387.26 L485.27,387.00 L485.60,387.59 L485.93,387.24 L486.26,387.01 L486.59,387.31 L486.92,387.29 L487.25,387.90 L487.58,387.25 L487.91,387.69 L488.24,387.50 L488.57,387.44 L488.90,387.31 L489.23,387.02 L489.56,387.30 L489.89,386.59 L490.22,385.69 L490.55,385.54 L490.88,385.74 L491.20,385.27 L491.21,385.58 L491.54,385.14 L491.87,386.11 L492.20,386.04 L492.53,386.38 L492.86,386.74 L493.19,387.23 L493.52,387.48 L493.85,387.88 L494.18,387.92 L494.51,388.78 L494.84,388.45 L495.17,388.08 L495.50,388.28 L495.83,387.99 L496.16,388.00 L496.49,388.69 L496.82,388.32 L497.15,387.75 L497.48,387.87 L497.81,388.29 L498.14,388.10 L498.47,387.91 L498.80,388.31 L499.13,387.86 L499.46,387.67 L499.79,387.26 L500.12,388.09 L500.45,388.71 L500.78,388.64 L501.11,388.43 L501.44,387.91 L501.77,389.10 L502.10,389.10 L502.43,388.71 L502.76,388.83 L503.09,388.18 L503.42,388.02 L503.75,387.91 L504.08,387.77 L504.41,387.70 L504.74,387.61 L505.07,387.45 L505.40,387.45 L505.73,387.89 L506.06,387.89 L506.39,388.61 L506.72,388.67 L507.05,387.98 L507.38,388.35 L507.71,387.96 L508.04,388.43 L508.37,387.92 L508.70,388.17 L509.03,387.98 L509.36,388.55 L509.69,387.92 L510.02,388.49 L510.35,388.41 L510.68,387.71 L511.01,387.53 L511.34,387.52 L511.67,387.08 L512.00,387.03 L512.33,387.29" stroke="#111" stroke-width="1.8" fill="none" stroke-linejoin="round"/>
<path d="M66.50,556.23 L66.83,555.52 L67.16,555.33 L67.49,555.08 L67.82,554.69 L68.15,554.67 L68.48,554.82 L68.81,555.73 L69.14,555.42 L69.47,556.18 L69.80,554.66 L70.13,555.30 L70.46,554.82 L70.79,554.32 L71.12,554.73 L71.45,554.74 L71.78,555.29 L72.11,555.89 L72.44,555.37 L72.77,555.47 L73.10,555.41 L73.43,555.20 L73.76,555.86 L74.09,555.45 L74.42,555.49 L74.75,555.42 L75.08,555.27 L75.41,555.36 L75.74,555.70 L76.07,555.54 L76.40,555.36 L76.73,556.22 L77.06,555.46 L77.39,555.07 L77.72,555.80 L78.05,553.97 L78.38,554.76 L78.71,555.50 L79.04,555.74 L79.37,555.35 L79.70,555.88 L80.03,556.12 L80.36,556.38 L80.69,555.27 L81.02,555.78 L81.35,555.82 L81.68,556.70 L82.01,556.72 L82.34,556.63 L82.67,555.64 L83.00,555.94 L83.33,555.43 L83.66,555.60 L83.99,555.75 L84.32,555.94 L84.65,556.18 L84.98,556.61 L85.31,556.43 L85.64,557.03 L85.97,556.19 L86.30,555.81 L86.63,555.57 L86.96,555.77 L87.29,556.18 L87.62,555.52 L87.95,557.20 L88.28,556.59 L88.61,557.20 L88.94,556.52 L89.27,556.41 L89.60,557.59 L89.93,556.33 L90.26,555.97 L90.59,556.08 L90.92,556.37 L91.25,556.28 L91.58,556.03 L91.91,555.79 L92.24,556.26 L92.57,556.15 L92.90,555.82 L93.23,556.14 L93.56,556.57 L93.89,556.97 L94.22,557.31 L94.55,557.86 L94.88,558.25 L95.21,556.90 L95.54,556.82 L95.87,557.09 L96.20,556.89 L96.53,556.80 L96.86,556.92 L97.19,556.52 L97.52,557.08 L97.85,556.86 L98.18,556.55 L98.51,556.60 L98.84,557.12 L99.17,556.34 L99.50,555.89 L99.83,555.99 L100.16,555.54 L100.49,555.68 L100.82,555.70 L101.15,556.24 L101.48,555.70 L101.81,556.67 L102.14,556.71 L102.47,556.60 L102.80,557.12 L103.13,557.48 L103.46,556.78 L103.79,556.47 L104.12,557.12 L104.45,557.60 L104.78,557.36 L105.11,556.44 L105.44,557.29 L105.77,557.49 L106.10,556.58 L106.43,556.95 L106.76,557.50 L107.09,556.58 L107.42,556.80 L107.75,556.95 L108.08,557.10 L108.41,556.46 L108.74,556.77 L109.07,556.79 L109.40,557.81 L109.73,557.37 L110.06,557.71 L110.39,557.54 L110.72,557.86 L111.05,557.30 L111.38,557.14 L111.71,557.05 L112.04,557.33 L112.37,556.93 L112.70,557.47 L113.03,557.65 L113.36,557.35 L113.69,557.46 L114.02,557.19 L114.35,557.08 L114.68,557.18 L115.01,556.80 L115.34,557.38 L115.67,557.15 L116.00,556.34 L116.33,556.57 L116.66,557.22 L116.99,557.49 L117.32,557.93 L117.65,558.16 L117.98,558.06 L118.31,558.29 L118.64,557.50 L118.97,557.68 L119.30,558.14 L119.63,557.44 L119.96,557.76 L120.29,557.92 L120.62,558.11 L120.95,557.56 L121.28,557.61 L121.61,557.47 L121.94,557.35 L122.27,557.70 L122.60,556.95 L122.93,557.77 L123.26,557.51 L123.59,557.97 L123.92,557.07 L124.25,557.76 L124.58,557.60 L124.91,557.59 L125.24,558.18 L125.57,558.11 L125.90,557.27 L126.23,557.32 L126.56,556.83 L126.89,556.83 L127.22,556.99 L127.55,557.56 L127.88,557.51 L128.21,557.77 L128.54,557.02 L128.87,557.71 L129.20,556.99 L129.53,556.83 L129.86,557.28 L130.19,556.88 L130.52,557.40 L130.85,558.05 L131.18,558.02 L131.51,557.02 L131.84,558.41 L132.17,557.96 L132.50,558.21 L132.83,558.07 L133.16,558.36 L133.49,558.41 L133.82,558.59 L134.15,558.44 L134.48,557.95 L134.81,557.61 L135.14,557.74 L135.47,557.53 L135.80,557.38 L136.13,557.32 L136.46,557.74 L136.79,557.35 L137.12,557.75 L137.45,558.40 L137.78,557.38 L138.11,557.37 L138.44,556.82 L138.77,558.01 L139.10,557.39 L139.43,558.08 L139.76,558.03 L140.09,558.34 L140.42,557.96 L140.75,558.07 L141.08,557.60 L141.41,557.86 L141.74,557.96 L142.07,558.18 L142.40,557.48 L142.73,557.63 L143.06,557.52 L143.39,557.34 L143.72,557.34 L144.05,557.16 L144.38,557.13 L144.71,557.32 L145.04,556.64 L145.37,557.06 L145.70,557.45 L146.03,557.76 L146.36,558.24 L146.69,558.66 L147.02,558.87 L147.35,558.94 L147.68,559.00 L148.01,558.85 L148.34,558.58 L148.67,558.34 L149.00,558.13 L149.33,558.00 L149.66,558.32 L149.99,557.96 L150.32,557.93 L150.65,557.86 L150.98,557.75 L151.31,557.12 L151.64,557.63 L151.97,557.93 L152.30,557.17 L152.63,557.47 L152.96,558.05 L153.29,557.64 L153.62,557.71 L153.95,557.77 L154.28,557.70 L154.61,558.01 L154.94,557.73 L155.27,557.95 L155.60,558.15 L155.93,558.16 L156.26,558.29 L156.59,558.38 L156.92,558.39 L157.25,558.12 L157.58,557.45 L157.91,557.50 L158.24,556.85 L158.57,556.88 L158.90,557.01 L159.23,557.21 L159.56,557.69 L159.89,557.19 L160.22,557.12 L160.55,556.85 L160.88,557.06 L161.21,556.31 L161.54,555.17 L161.87,552.18 L162.20,546.01 L162.53,537.13 L162.86,527.00 L163.19,520.96 L163.20,520.97 L163.52,526.13 L163.85,537.17 L164.18,546.65 L164.51,551.82 L164.84,555.43 L165.17,556.16 L165.50,557.11 L165.83,557.23 L166.16,557.68 L166.49,558.55 L166.82,558.49 L167.15,558.58 L167.48,558.93 L167.81,558.39 L168.14,558.57 L168.47,558.79 L168.80,558.29 L169.13,558.52 L169.46,557.86 L169.79,557.76 L170.12,557.87 L170.45,557.99 L170.78,558.23 L171.11,558.72 L171.44,558.59 L171.77,558.60 L172.10,558.46 L172.43,558.69 L172.76,558.38 L173.09,558.55 L173.42,558.21 L173.75,558.38 L174.08,557.96 L174.41,557.63 L174.74,557.98 L175.07,558.21 L175.40,558.43 L175.73,559.10 L176.06,558.73 L176.39,558.26 L176.72,558.15 L177.05,558.12 L177.38,558.13 L177.71,558.66 L178.04,558.96 L178.37,558.86 L178.70,558.31 L179.03,558.36 L179.36,558.51 L179.69,558.33 L180.02,558.21 L180.35,558.36 L180.68,558.10 L181.01,558.20 L181.34,557.53 L181.67,557.39 L182.00,556.65 L182.33,555.06 L182.66,553.24 L182.99,549.80 L183.32,545.60 L183.65,541.02 L183.98,537.52 L184.20,536.28 L184.31,536.04 L184.64,538.99 L184.97,544.04 L185.30,548.67 L185.63,552.02 L185.96,555.04 L186.29,556.41 L186.62,557.09 L186.95,557.36 L187.28,556.98 L187.61,557.75 L187.94,556.85 L188.27,557.80 L188.60,557.61 L188.93,557.94 L189.26,558.47 L189.59,558.62 L189.92,558.36 L190.25,557.97 L190.58,557.64 L190.91,557.38 L191.24,558.21 L191.57,557.80 L191.90,557.12 L192.23,556.81 L192.56,556.74 L192.89,556.06 L193.22,554.72 L193.55,553.03 L193.88,550.94 L194.21,545.29 L194.54,531.71 L194.87,503.82 L195.20,462.37 L195.53,431.98 L195.60,430.76 L195.86,445.87 L196.19,487.15 L196.52,522.72 L196.85,541.29 L197.18,549.76 L197.51,553.09 L197.84,554.93 L198.17,555.56 L198.50,556.70 L198.83,557.60 L199.16,557.47 L199.49,558.16 L199.82,558.14 L200.15,558.33 L200.48,558.41 L200.81,558.18 L201.14,558.24 L201.47,558.45 L201.80,558.64 L202.13,558.33 L202.46,558.40 L202.79,558.64 L203.12,559.30 L203.45,559.43 L203.78,559.43 L204.11,559.60 L204.44,559.49 L204.77,559.85 L205.10,559.25 L205.43,559.37 L205.76,559.31 L206.09,559.33 L206.42,558.69 L206.75,559.91 L207.08,559.39 L207.41,559.30 L207.74,559.81 L208.07,559.54 L208.40,559.45 L208.73,559.05 L209.06,558.59 L209.39,559.04 L209.72,558.94 L210.05,559.35 L210.38,559.59 L210.71,559.52 L211.04,559.32 L211.37,559.52 L211.70,559.26 L212.03,559.41 L212.36,559.61 L212.69,558.95 L213.02,559.36 L213.35,558.95 L213.68,558.84 L214.01,558.91 L214.34,559.00 L214.67,559.14 L215.00,559.12 L215.33,559.05 L215.66,559.17 L215.99,559.44 L216.32,559.60 L216.65,559.40 L216.98,558.99 L217.31,559.12 L217.64,558.93 L217.97,558.96 L218.30,559.04 L218.63,558.92 L218.96,559.62 L219.29,559.12 L219.62,559.06 L219.95,559.63 L220.28,558.95 L220.61,558.91 L220.94,559.77 L221.27,559.39 L221.60,559.37 L221.93,559.27 L222.26,559.13 L222.59,559.36 L222.92,559.04 L223.25,559.44 L223.58,559.25 L223.91,559.12 L224.24,559.55 L224.57,559.98 L224.90,559.39 L225.23,559.65 L225.56,559.56 L225.89,558.92 L226.22,559.33 L226.55,559.17 L226.88,558.69 L227.21,558.88 L227.54,559.41 L227.87,559.58 L228.20,559.40 L228.53,559.72 L228.86,558.95 L229.19,558.43 L229.52,559.26 L229.85,559.08 L230.18,558.43 L230.51,558.91 L230.84,559.33 L231.17,559.25 L231.50,559.57 L231.83,560.07 L232.16,560.02 L232.49,559.51 L232.82,559.95 L233.15,559.24 L233.48,559.45 L233.81,559.52 L234.14,559.54 L234.47,559.53 L234.80,559.15 L235.13,559.45 L235.46,559.76 L235.79,559.97 L236.12,560.17 L236.45,559.42 L236.78,559.57 L237.11,559.89 L237.44,559.29 L237.77,558.85 L238.10,558.69 L238.43,559.38 L238.76,559.49 L239.09,559.21 L239.42,559.49 L239.75,559.60 L240.08,559.29 L240.41,559.15 L240.74,558.98 L241.07,558.91 L241.40,559.35 L241.73,558.81 L242.06,559.65 L242.39,559.52 L242.72,559.29 L243.05,558.96 L243.38,559.54 L243.71,559.28 L244.04,559.54 L244.37,559.94 L244.70,560.19 L245.03,559.43 L245.36,559.41 L245.69,560.04 L246.02,559.84 L246.35,560.02 L246.68,559.51 L247.01,559.77 L247.34,559.51 L247.67,559.49 L248.00,559.38 L248.33,559.72 L248.66,559.55 L248.99,559.12 L249.32,559.14 L249.65,559.07 L249.98,558.90 L250.31,559.02 L250.64,558.66 L250.97,559.15 L251.30,558.87 L251.63,558.96 L251.96,558.79 L252.29,559.27 L252.62,559.15 L252.95,559.72 L253.28,559.12 L253.61,559.17 L253.94,559.31 L254.27,559.46 L254.60,559.11 L254.93,559.19 L255.26,559.05 L255.59,559.53 L255.92,559.75 L256.25,559.58 L256.58,559.69 L256.91,559.64 L257.24,559.75 L257.57,559.72 L257.90,559.71 L258.23,559.66 L258.56,559.47 L258.89,559.31 L259.22,559.46 L259.55,559.55 L259.88,559.51 L260.21,559.67 L260.54,559.72 L260.87,559.84 L261.20,559.46 L261.53,559.60 L261.86,559.12 L262.19,559.27 L262.52,559.34 L262.85,559.46 L263.18,559.25 L263.51,559.39 L263.84,559.75 L264.17,559.33 L264.50,559.61 L264.83,559.64 L265.16,558.98 L265.49,559.42 L265.82,559.54 L266.15,559.51 L266.48,559.35 L266.81,559.57 L267.14,559.24 L267.47,559.00 L267.80,559.13 L268.13,559.11 L268.46,559.24 L268.79,559.24 L269.12,560.01 L269.45,559.30 L269.78,559.04 L270.11,559.62 L270.44,559.70 L270.77,559.27 L271.10,559.69 L271.43,559.96 L271.76,560.06 L272.09,560.20 L272.42,559.97 L272.75,559.77 L273.08,559.54 L273.41,559.13 L273.74,558.93 L274.07,559.43 L274.40,559.14 L274.73,558.87 L275.06,558.77 L275.39,557.96 L275.72,556.98 L276.05,555.96 L276.38,553.75 L276.71,551.71 L277.04,548.72 L277.37,546.79 L277.70,545.33 L277.70,545.38 L278.03,546.65 L278.36,549.14 L278.69,552.53 L279.02,554.35 L279.35,555.97 L279.68,557.35 L280.01,558.07 L280.34,558.77 L280.67,558.86 L281.00,558.99 L281.33,559.66 L281.66,558.91 L281.99,559.21 L282.32,559.09 L282.65,559.48 L282.98,559.09 L283.31,559.16 L283.64,559.07 L283.97,559.30 L284.30,559.21 L284.63,559.60 L284.96,559.54 L285.29,559.65 L285.62,559.74 L285.95,559.31 L286.28,559.14 L286.61,559.16 L286.94,559.24 L287.27,559.76 L287.60,559.76 L287.93,559.64 L288.26,560.26 L288.59,559.80 L288.92,559.31 L289.25,559.86 L289.58,560.07 L289.91,559.86 L290.24,559.99 L290.57,560.28 L290.90,560.05 L291.23,559.92 L291.56,559.74 L291.89,559.69 L292.22,559.68 L292.55,559.60 L292.88,560.14 L293.21,559.74 L293.54,559.79 L293.87,559.59 L294.20,559.94 L294.53,560.33 L294.86,560.04 L295.19,559.94 L295.52,560.40 L295.85,559.99 L296.18,559.91 L296.51,559.88 L296.84,559.77 L297.17,559.18 L297.50,559.44 L297.83,559.88 L298.16,560.37 L298.49,560.04 L298.82,559.92 L299.15,559.84 L299.48,559.96 L299.81,559.45 L300.14,559.31 L300.47,559.31 L300.80,559.05 L301.13,559.28 L301.46,559.18 L301.79,559.42 L302.12,559.59 L302.45,559.44 L302.78,559.64 L303.11,559.26 L303.44,559.17 L303.77,559.30 L304.10,559.58 L304.43,560.17 L304.76,559.38 L305.09,559.98 L305.42,559.80 L305.75,559.81 L306.08,559.72 L306.41,559.92 L306.74,560.00 L307.07,559.83 L307.40,560.16 L307.73,559.80 L308.06,559.84 L308.39,559.63 L308.72,559.61 L309.05,559.73 L309.38,559.37 L309.71,559.09 L310.04,559.41 L310.37,559.53 L310.70,559.53 L311.03,559.71 L311.36,559.51 L311.69,559.57 L312.02,559.35 L312.35,559.51 L312.68,559.48 L313.01,559.87 L313.34,559.83 L313.67,560.00 L314.00,560.31 L314.33,559.68 L314.66,559.40 L314.99,559.40 L315.32,559.19 L315.65,559.15 L315.98,559.73 L316.31,560.07 L316.64,559.66 L316.97,559.89 L317.30,559.83 L317.63,559.61 L317.96,559.65 L318.29,560.13 L318.62,559.70 L318.95,560.42 L319.28,560.50 L319.61,560.25 L319.94,559.62 L320.27,559.98 L320.60,559.63 L320.93,560.32 L321.26,560.14 L321.59,559.98 L321.92,559.85 L322.25,559.94 L322.58,559.81 L322.91,559.79 L323.24,560.02 L323.57,559.61 L323.90,560.14 L324.23,559.94 L324.56,559.60 L324.89,560.09 L325.22,560.40 L325.55,560.10 L325.88,560.25 L326.21,560.59 L326.54,560.53 L326.87,559.93 L327.20,560.27 L327.53,560.11 L327.86,559.79 L328.19,560.18 L328.52,560.17 L328.85,559.62 L329.18,560.07 L329.51,559.88 L329.84,559.73 L330.17,559.63 L330.50,560.30 L330.83,559.92 L331.16,559.60 L331.49,559.84 L331.82,559.66 L332.15,559.49 L332.48,559.66 L332.81,559.86 L333.14,559.51 L333.47,559.76 L333.80,559.56 L334.13,559.91 L334.46,559.74 L334.79,559.73 L335.12,560.08 L335.45,559.75 L335.78,559.60 L336.11,559.30 L336.44,559.44 L336.77,559.09 L337.10,558.72 L337.43,558.40 L337.76,559.15 L338.09,559.16 L338.42,558.92 L338.75,558.28 L339.08,558.19 L339.41,556.78 L339.74,554.74 L340.07,550.39 L340.40,543.96 L340.73,535.29 L341.06,530.79 L341.10,530.55 L341.39,534.14 L341.72,541.54 L342.05,548.84 L342.38,553.82 L342.71,556.06 L343.04,557.53 L343.37,557.71 L343.70,558.55 L344.03,558.60 L344.36,558.86 L344.69,558.82 L345.02,558.89 L345.35,559.42 L345.68,559.71 L346.01,559.81 L346.34,559.47 L346.67,559.41 L347.00,559.59 L347.33,559.37 L347.66,559.65 L347.99,559.59 L348.32,559.63 L348.65,558.86 L348.98,559.67 L349.31,559.26 L349.64,559.30 L349.97,559.69 L350.30,560.02 L350.63,559.84 L350.96,559.64 L351.29,559.79 L351.62,559.26 L351.95,559.62 L352.28,559.56 L352.61,559.71 L352.94,560.10 L353.27,559.41 L353.60,559.43 L353.93,559.21 L354.26,559.38 L354.59,559.43 L354.92,559.59 L355.25,559.49 L355.58,559.61 L355.91,560.08 L356.24,559.32 L356.57,559.62 L356.90,559.80 L357.23,559.53 L357.56,559.59 L357.89,559.86 L358.22,559.28 L358.55,560.18 L358.88,560.02 L359.21,560.00 L359.54,559.67 L359.87,559.81 L360.20,559.60 L360.53,559.63 L360.86,560.10 L361.19,559.29 L361.52,559.34 L361.85,559.80 L362.18,559.99 L362.51,559.69 L362.84,560.33 L363.17,559.89 L363.50,559.93 L363.83,559.88 L364.16,559.95 L364.49,559.85 L364.82,559.66 L365.15,559.56 L365.48,559.53 L365.81,560.00 L366.14,559.70 L366.47,559.77 L366.80,559.40 L367.13,559.81 L367.46,559.84 L367.79,559.87 L368.12,559.72 L368.45,559.99 L368.78,559.36 L369.11,559.68 L369.44,559.64 L369.77,559.52 L370.10,559.87 L370.43,559.92 L370.76,559.61 L371.09,559.67 L371.42,559.81 L371.75,559.79 L372.08,560.10 L372.41,560.34 L372.74,560.04 L373.07,560.51 L373.40,560.37 L373.73,560.28 L374.06,559.85 L374.39,560.03 L374.72,559.74 L375.05,559.95 L375.38,559.73 L375.71,559.87 L376.04,559.52 L376.37,559.64 L376.70,559.59 L377.03,559.82 L377.36,559.71 L377.69,559.57 L378.02,559.40 L378.35,559.68 L378.68,559.79 L379.01,559.85 L379.34,559.61 L379.67,559.55 L380.00,559.71 L380.33,559.67 L380.66,559.65 L380.99,559.71 L381.32,559.89 L381.65,559.99 L381.98,560.16 L382.31,560.08 L382.64,559.85 L382.97,559.57 L383.30,559.36 L383.63,558.96 L383.96,559.13 L384.29,559.38 L384.62,559.27 L384.95,559.29 L385.28,559.23 L385.61,558.94 L385.94,558.76 L386.27,558.62 L386.60,558.51 L386.93,557.86 L387.26,557.43 L387.59,556.77 L387.92,556.38 L388.25,554.26 L388.58,552.78 L388.91,550.16 L389.24,548.32 L389.57,546.66 L389.90,545.76 L390.00,545.84 L390.23,546.14 L390.56,546.97 L390.89,548.80 L391.22,551.21 L391.55,553.10 L391.88,554.50 L392.21,556.27 L392.54,557.13 L392.87,557.69 L393.20,558.28 L393.53,558.88 L393.86,558.47 L394.19,558.56 L394.52,558.87 L394.85,558.90 L395.18,559.15 L395.51,559.55 L395.84,559.78 L396.17,559.76 L396.50,559.75 L396.83,559.84 L397.16,559.54 L397.49,559.66 L397.82,559.72 L398.15,559.27 L398.48,559.76 L398.81,559.55 L399.14,559.76 L399.47,559.96 L399.80,560.05 L400.13,559.47 L400.46,559.18 L400.79,559.75 L401.12,559.46 L401.45,559.73 L401.78,559.78 L402.11,559.60 L402.44,559.99 L402.77,559.93 L403.10,560.04 L403.43,559.92 L403.76,559.77 L404.09,559.63 L404.42,559.16 L404.75,559.42 L405.08,559.54 L405.41,559.62 L405.74,559.61 L406.07,559.92 L406.40,559.32 L406.73,559.85 L407.06,559.51 L407.39,559.47 L407.72,559.10 L408.05,558.98 L408.38,559.28 L408.71,559.22 L409.04,559.29 L409.37,558.62 L409.70,559.24 L410.03,559.34 L410.36,559.05 L410.69,559.31 L411.02,558.70 L411.35,558.18 L411.68,557.27 L412.01,556.58 L412.34,555.23 L412.67,554.55 L413.00,554.13 L413.00,554.35 L413.33,555.43 L413.66,556.34 L413.99,557.06 L414.32,558.03 L414.65,558.91 L414.98,558.68 L415.31,559.49 L415.64,559.76 L415.97,559.54 L416.30,559.52 L416.63,559.41 L416.96,559.33 L417.29,558.85 L417.62,559.01 L417.95,558.89 L418.28,558.76 L418.61,559.53 L418.94,559.50 L419.27,559.41 L419.60,559.31 L419.93,559.41 L420.26,559.31 L420.59,559.10 L420.92,559.21 L421.25,559.28 L421.58,559.15 L421.91,559.62 L422.24,559.62 L422.57,559.28 L422.90,558.72 L423.23,558.55 L423.56,557.99 L423.89,557.35 L424.22,556.22 L424.55,554.22 L424.88,551.05 L425.21,546.50 L425.54,541.08 L425.87,536.99 L426.00,536.59 L426.20,537.35 L426.53,541.23 L426.86,546.83 L427.19,551.65 L427.52,555.28 L427.85,557.09 L428.18,557.80 L428.51,558.34 L428.84,558.24 L429.17,558.33 L429.50,558.57 L429.83,558.99 L430.16,558.79 L430.49,558.44 L430.82,558.38 L431.15,557.20 L431.48,555.66 L431.81,553.94 L432.14,550.91 L432.47,547.13 L432.80,543.54 L433.13,540.82 L433.20,540.57 L433.46,542.08 L433.79,545.79 L434.12,549.62 L434.45,553.48 L434.78,555.80 L435.11,557.24 L435.44,558.08 L435.77,558.37 L436.10,558.85 L436.43,559.05 L436.76,558.80 L437.09,558.97 L437.42,558.66 L437.75,559.08 L438.08,559.03 L438.41,558.83 L438.74,559.07 L439.07,559.11 L439.40,559.62 L439.73,559.81 L440.06,560.04 L440.39,560.10 L440.72,559.76 L441.05,559.28 L441.38,559.69 L441.71,559.49 L442.04,559.77 L442.37,559.96 L442.70,560.33 L443.03,559.96 L443.36,559.62 L443.69,559.62 L444.02,559.60 L444.35,559.73 L444.68,559.01 L445.01,559.37 L445.34,559.40 L445.67,559.39 L446.00,559.73 L446.33,559.94 L446.66,559.79 L446.99,559.60 L447.32,559.95 L447.65,560.01 L447.98,559.90 L448.31,559.89 L448.64,559.98 L448.97,559.98 L449.30,559.58 L449.63,559.75 L449.96,559.81 L450.29,560.03 L450.62,559.77 L450.95,559.96 L451.28,559.67 L451.61,559.28 L451.94,559.52 L452.27,559.13 L452.60,559.36 L452.93,559.34 L453.26,559.58 L453.59,559.71 L453.92,559.41 L454.25,559.32 L454.58,560.25 L454.91,559.58 L455.24,559.70 L455.57,559.86 L455.90,559.69 L456.23,559.66 L456.56,559.80 L456.89,559.93 L457.22,559.27 L457.55,559.62 L457.88,559.79 L458.21,559.94 L458.54,559.47 L458.87,559.72 L459.20,560.13 L459.53,559.89 L459.86,559.92 L460.19,559.70 L460.52,560.29 L460.85,560.26 L461.18,559.69 L461.51,559.70 L461.84,559.58 L462.17,559.58 L462.50,559.60 L462.83,559.88 L463.16,559.87 L463.49,559.65 L463.82,559.38 L464.15,559.48 L464.48,559.85 L464.81,559.60 L465.14,559.74 L465.47,559.90 L465.80,560.33 L466.13,560.33 L466.46,559.90 L466.79,559.87 L467.12,559.84 L467.45,559.75 L467.78,559.51 L468.11,559.78 L468.44,559.83 L468.77,559.70 L469.10,559.51 L469.43,559.56 L469.76,559.73 L470.09,559.45 L470.42,559.80 L470.75,559.24 L471.08,559.47 L471.41,559.75 L471.74,559.31 L472.07,559.38 L472.40,559.50 L472.73,559.93 L473.06,559.60 L473.39,560.08 L473.72,559.94 L474.05,559.94 L474.38,559.55 L474.71,559.70 L475.04,559.65 L475.37,560.21 L475.70,560.32 L476.03,560.25 L476.36,560.08 L476.69,559.90 L477.02,559.69 L477.35,559.51 L477.68,559.71 L478.01,559.46 L478.34,559.65 L478.67,559.52 L479.00,559.40 L479.33,559.48 L479.66,559.41 L479.99,559.17 L480.32,559.36 L480.65,559.53 L480.98,559.63 L481.31,559.76 L481.64,559.58 L481.97,559.69 L482.30,559.57 L482.63,559.54 L482.96,559.78 L483.29,559.38 L483.62,559.39 L483.95,558.99 L484.28,559.00 L484.61,559.61 L484.94,558.90 L485.27,559.42 L485.60,559.22 L485.93,559.31 L486.26,559.51 L486.59,559.02 L486.92,559.45 L487.25,559.40 L487.58,559.69 L487.91,559.90 L488.24,560.38 L488.57,559.61 L488.90,559.48 L489.23,559.92 L489.56,559.44 L489.89,559.23 L490.22,559.13 L490.55,558.82 L490.88,558.65 L491.21,558.91 L491.54,558.52 L491.87,558.34 L492.20,557.52 L492.53,557.43 L492.86,556.36 L493.19,556.30 L493.20,556.44 L493.52,556.49 L493.85,556.76 L494.18,556.94 L494.51,557.65 L494.84,558.05 L495.17,558.49 L495.50,558.80 L495.83,559.30 L496.16,559.50 L496.49,559.51 L496.82,559.61 L497.15,559.24 L497.48,559.38 L497.81,559.49 L498.14,559.77 L498.47,559.75 L498.80,559.49 L499.13,559.85 L499.46,560.00 L499.79,559.94 L500.12,560.09 L500.45,560.01 L500.78,559.98 L501.11,559.98 L501.44,559.76 L501.77,559.86 L502.10,560.04 L502.43,560.18 L502.76,560.21 L503.09,559.99 L503.42,560.07 L503.75,559.97 L504.08,559.56 L504.41,560.02 L504.74,560.12 L505.07,559.94 L505.40,560.11 L505.73,560.09 L506.06,560.14 L506.39,559.89 L506.72,560.20 L507.05,559.71 L507.38,559.62 L507.71,560.24 L508.04,560.12 L508.37,560.03 L508.70,560.04 L509.03,560.09 L509.36,560.20 L509.69,560.20 L510.02,559.82 L510.35,560.02 L510.68,559.89 L511.01,559.86 L511.34,559.60 L511.67,559.44 L512.00,559.77 L512.33,559.96" stroke="#111" stroke-width="1.8" fill="none" stroke-linejoin="round"/>
<path d="M66.50,719.63 L66.83,719.97 L67.16,721.09 L67.49,720.50 L67.82,721.28 L68.15,720.46 L68.48,720.57 L68.81,719.98 L69.14,720.55 L69.47,720.60 L69.80,720.55 L70.13,721.45 L70.46,721.14 L70.79,721.11 L71.12,721.15 L71.45,721.14 L71.78,720.79 L72.11,720.41 L72.44,720.05 L72.77,720.48 L73.10,720.09 L73.43,720.55 L73.76,721.25 L74.09,721.03 L74.42,720.63 L74.75,721.67 L75.08,721.78 L75.41,720.16 L75.74,721.02 L76.07,721.04 L76.40,721.39 L76.73,722.45 L77.06,722.07 L77.39,722.40 L77.72,722.47 L78.05,722.25 L78.38,722.57 L78.71,722.77 L79.04,722.88 L79.37,722.09 L79.70,721.11 L80.03,721.31 L80.36,721.15 L80.69,721.19 L81.02,722.05 L81.35,721.78 L81.68,721.01 L82.01,721.82 L82.34,721.94 L82.67,721.81 L83.00,721.88 L83.33,722.05 L83.66,722.24 L83.99,722.38 L84.32,722.44 L84.65,723.26 L84.98,722.63 L85.31,722.84 L85.64,722.29 L85.97,721.09 L86.30,722.06 L86.63,721.48 L86.96,721.72 L87.29,721.74 L87.62,722.38 L87.95,722.78 L88.28,722.75 L88.61,722.08 L88.94,722.16 L89.27,722.01 L89.60,722.12 L89.93,722.23 L90.26,722.92 L90.59,722.15 L90.92,722.23 L91.25,722.31 L91.58,721.28 L91.91,722.71 L92.24,723.00 L92.57,722.18 L92.90,722.75 L93.23,723.22 L93.56,722.66 L93.89,723.09 L94.22,722.89 L94.55,722.46 L94.88,722.36 L95.21,722.46 L95.54,722.66 L95.87,721.89 L96.20,722.19 L96.53,722.51 L96.86,722.39 L97.19,722.91 L97.52,723.04 L97.85,723.23 L98.18,723.38 L98.51,724.52 L98.84,724.20 L99.17,723.83 L99.50,723.84 L99.83,723.33 L100.16,723.27 L100.49,722.82 L100.82,723.27 L101.15,723.49 L101.48,723.33 L101.81,724.39 L102.14,724.17 L102.47,723.52 L102.80,724.00 L103.13,724.48 L103.46,724.03 L103.79,723.60 L104.12,723.68 L104.45,723.84 L104.78,723.00 L105.11,723.95 L105.44,723.62 L105.77,724.92 L106.10,724.52 L106.43,724.32 L106.76,724.86 L107.09,725.14 L107.42,724.68 L107.75,724.43 L108.08,723.90 L108.41,724.45 L108.74,723.96 L109.07,724.05 L109.40,724.76 L109.73,724.60 L110.06,725.70 L110.39,724.73 L110.72,725.54 L111.05,724.56 L111.38,724.47 L111.71,724.49 L112.04,724.87 L112.37,723.79 L112.70,724.19 L113.03,723.48 L113.36,724.08 L113.69,724.46 L114.02,724.54 L114.35,725.28 L114.68,724.48 L115.01,724.54 L115.34,724.34 L115.67,724.32 L116.00,725.02 L116.33,724.79 L116.66,724.36 L116.99,724.95 L117.32,724.19 L117.65,723.91 L117.98,723.31 L118.31,724.15 L118.64,723.43 L118.97,723.84 L119.30,724.50 L119.63,724.48 L119.96,725.19 L120.29,725.67 L120.62,725.90 L120.95,725.20 L121.28,724.82 L121.61,724.73 L121.94,725.25 L122.27,725.34 L122.60,725.92 L122.93,725.05 L123.26,725.25 L123.59,725.69 L123.92,724.75 L124.25,724.56 L124.58,725.16 L124.91,725.40 L125.24,725.10 L125.57,724.76 L125.90,725.22 L126.23,724.98 L126.56,724.68 L126.89,725.64 L127.22,726.12 L127.55,726.26 L127.88,725.59 L128.21,725.46 L128.54,725.19 L128.87,725.14 L129.20,724.92 L129.53,725.75 L129.86,726.81 L130.19,726.42 L130.52,726.54 L130.85,725.96 L131.18,726.23 L131.51,726.04 L131.84,725.98 L132.17,725.88 L132.50,725.70 L132.83,726.63 L133.16,726.42 L133.49,725.93 L133.82,726.20 L134.15,726.35 L134.48,726.06 L134.81,726.74 L135.14,725.95 L135.47,725.79 L135.80,726.59 L136.13,726.50 L136.46,726.77 L136.79,726.47 L137.12,727.06 L137.45,727.16 L137.78,726.23 L138.11,725.82 L138.44,726.61 L138.77,725.84 L139.10,725.42 L139.43,725.73 L139.76,725.78 L140.09,725.91 L140.42,726.30 L140.75,726.56 L141.08,727.09 L141.41,727.26 L141.74,726.97 L142.07,726.42 L142.40,726.88 L142.73,726.35 L143.06,725.49 L143.39,726.23 L143.72,726.30 L144.05,725.99 L144.38,726.51 L144.71,726.74 L145.04,726.74 L145.37,726.61 L145.70,726.64 L146.03,726.92 L146.36,726.96 L146.69,726.54 L147.02,726.39 L147.35,726.72 L147.68,726.96 L148.01,727.28 L148.34,727.10 L148.67,726.56 L149.00,726.62 L149.33,725.96 L149.66,725.96 L149.99,726.13 L150.32,726.91 L150.65,726.91 L150.98,727.27 L151.31,727.31 L151.64,727.14 L151.97,727.47 L152.30,727.58 L152.63,727.61 L152.96,727.42 L153.29,727.73 L153.62,727.76 L153.95,727.28 L154.28,727.41 L154.61,727.82 L154.94,727.31 L155.27,727.15 L155.60,728.06 L155.93,727.30 L156.26,727.00 L156.59,727.75 L156.92,727.62 L157.25,726.56 L157.58,726.33 L157.91,726.47 L158.24,726.53 L158.57,726.16 L158.90,726.70 L159.23,725.57 L159.56,725.10 L159.89,720.87 L160.22,713.50 L160.55,702.69 L160.88,691.10 L161.10,687.64 L161.21,688.42 L161.54,698.73 L161.87,709.94 L162.20,718.76 L162.53,723.02 L162.86,725.05 L163.19,725.27 L163.52,725.55 L163.85,725.82 L164.18,725.92 L164.51,726.25 L164.84,727.02 L165.17,727.32 L165.50,727.98 L165.83,727.15 L166.16,727.59 L166.49,727.33 L166.82,727.20 L167.15,727.47 L167.48,727.74 L167.81,727.58 L168.14,727.80 L168.47,727.79 L168.80,728.45 L169.13,727.97 L169.46,727.94 L169.79,728.08 L170.12,728.56 L170.45,727.62 L170.78,727.84 L171.11,727.85 L171.44,728.03 L171.77,728.03 L172.10,727.65 L172.43,727.94 L172.76,727.74 L173.09,727.76 L173.42,727.52 L173.75,727.51 L174.08,727.83 L174.41,727.24 L174.74,727.39 L175.07,727.67 L175.40,727.15 L175.73,727.25 L176.06,727.23 L176.39,727.63 L176.72,727.52 L177.05,727.38 L177.38,727.35 L177.71,727.22 L178.04,727.20 L178.37,727.66 L178.70,727.06 L179.03,727.54 L179.36,727.00 L179.69,726.86 L180.02,726.82 L180.35,726.36 L180.68,725.71 L181.01,723.60 L181.34,721.07 L181.67,717.22 L182.00,712.44 L182.33,709.72 L182.50,709.10 L182.66,708.70 L182.99,712.07 L183.32,715.66 L183.65,719.38 L183.98,722.29 L184.31,724.54 L184.64,725.74 L184.97,727.16 L185.30,726.98 L185.63,727.66 L185.96,728.16 L186.29,727.41 L186.62,727.72 L186.95,727.47 L187.28,727.93 L187.61,727.25 L187.94,727.42 L188.27,727.37 L188.60,727.14 L188.93,726.78 L189.26,727.15 L189.59,726.98 L189.92,726.93 L190.25,726.80 L190.58,727.03 L190.91,726.21 L191.24,725.67 L191.57,725.43 L191.90,724.17 L192.23,723.17 L192.56,719.01 L192.89,709.42 L193.22,687.78 L193.55,651.60 L193.88,611.26 L194.10,599.63 L194.21,602.28 L194.54,637.38 L194.87,677.46 L195.20,703.83 L195.53,716.24 L195.86,720.92 L196.19,723.92 L196.52,724.64 L196.85,726.57 L197.18,727.04 L197.51,728.00 L197.84,727.78 L198.17,728.06 L198.50,727.76 L198.83,726.41 L199.16,727.31 L199.49,727.29 L199.82,727.69 L200.15,727.70 L200.48,727.62 L200.81,727.70 L201.14,727.71 L201.47,727.74 L201.80,727.97 L202.13,728.53 L202.46,728.45 L202.79,728.25 L203.12,728.32 L203.45,728.17 L203.78,728.12 L204.11,727.46 L204.44,727.83 L204.77,727.60 L205.10,727.95 L205.43,728.30 L205.76,728.50 L206.09,728.43 L206.42,728.43 L206.75,728.01 L207.08,728.13 L207.41,727.82 L207.74,728.50 L208.07,728.38 L208.40,729.05 L208.73,728.77 L209.06,729.12 L209.39,728.38 L209.72,729.07 L210.05,729.08 L210.38,728.96 L210.71,728.78 L211.04,728.93 L211.37,728.71 L211.70,728.56 L212.03,728.31 L212.36,728.48 L212.69,729.00 L213.02,729.26 L213.35,729.04 L213.68,729.25 L214.01,729.25 L214.34,729.04 L214.67,728.82 L215.00,728.79 L215.33,728.81 L215.66,729.77 L215.99,728.98 L216.32,728.49 L216.65,728.91 L216.98,728.97 L217.31,728.68 L217.64,728.92 L217.97,729.14 L218.30,728.96 L218.63,729.19 L218.96,728.78 L219.29,729.18 L219.62,729.62 L219.95,729.66 L220.28,729.76 L220.61,729.36 L220.94,728.93 L221.27,728.94 L221.60,728.46 L221.93,729.32 L222.26,728.98 L222.59,729.31 L222.92,728.51 L223.25,729.33 L223.58,728.86 L223.91,728.23 L224.24,728.45 L224.57,728.52 L224.90,728.49 L225.23,728.64 L225.56,728.64 L225.89,728.93 L226.22,728.50 L226.55,728.82 L226.88,728.42 L227.21,729.05 L227.54,728.98 L227.87,729.14 L228.20,728.85 L228.53,729.29 L228.86,728.40 L229.19,728.72 L229.52,728.57 L229.85,728.33 L230.18,728.53 L230.51,728.68 L230.84,729.45 L231.17,729.04 L231.50,728.70 L231.83,728.85 L232.16,728.88 L232.49,728.73 L232.82,728.90 L233.15,729.39 L233.48,728.68 L233.81,729.26 L234.14,728.82 L234.47,728.85 L234.80,729.08 L235.13,729.31 L235.46,729.35 L235.79,729.29 L236.12,729.29 L236.45,729.48 L236.78,729.30 L237.11,729.00 L237.44,728.98 L237.77,729.24 L238.10,728.57 L238.43,728.89 L238.76,728.88 L239.09,728.79 L239.42,729.08 L239.75,728.30 L240.08,729.23 L240.41,728.65 L240.74,729.40 L241.07,729.28 L241.40,729.30 L241.73,729.75 L242.06,729.63 L242.39,729.21 L242.72,729.13 L243.05,729.07 L243.38,728.51 L243.71,728.43 L244.04,729.32 L244.37,728.77 L244.70,728.58 L245.03,728.98 L245.36,728.91 L245.69,728.62 L246.02,728.70 L246.35,729.23 L246.68,728.87 L247.01,728.58 L247.34,729.36 L247.67,729.17 L248.00,729.01 L248.33,729.33 L248.66,729.17 L248.99,728.89 L249.32,728.62 L249.65,728.69 L249.98,729.12 L250.31,729.05 L250.64,728.31 L250.97,728.68 L251.30,729.21 L251.63,729.14 L251.96,729.01 L252.29,728.83 L252.62,729.04 L252.95,728.75 L253.28,728.74 L253.61,728.98 L253.94,729.27 L254.27,729.48 L254.60,729.13 L254.93,728.78 L255.26,729.46 L255.59,729.13 L255.92,729.28 L256.25,728.98 L256.58,729.69 L256.91,729.45 L257.24,728.89 L257.57,729.20 L257.90,728.86 L258.23,728.99 L258.56,729.08 L258.89,729.35 L259.22,729.58 L259.55,729.37 L259.88,729.71 L260.21,729.48 L260.54,729.65 L260.87,729.23 L261.20,729.84 L261.53,729.57 L261.86,728.84 L262.19,729.22 L262.52,728.86 L262.85,728.94 L263.18,728.74 L263.51,728.53 L263.84,728.98 L264.17,729.14 L264.50,729.75 L264.83,729.15 L265.16,729.76 L265.49,729.57 L265.82,729.22 L266.15,729.28 L266.48,729.28 L266.81,729.38 L267.14,729.38 L267.47,729.27 L267.80,729.30 L268.13,729.01 L268.46,729.18 L268.79,729.10 L269.12,729.36 L269.45,729.12 L269.78,729.07 L270.11,728.66 L270.44,729.16 L270.77,728.63 L271.10,729.21 L271.43,729.17 L271.76,728.69 L272.09,728.86 L272.42,728.83 L272.75,728.64 L273.08,728.75 L273.41,728.95 L273.74,728.43 L274.07,727.16 L274.40,725.80 L274.73,723.88 L275.06,721.59 L275.39,718.34 L275.72,716.66 L276.00,716.00 L276.05,716.34 L276.38,717.39 L276.71,719.39 L277.04,722.15 L277.37,724.19 L277.70,726.16 L278.03,727.49 L278.36,728.68 L278.69,728.60 L279.02,728.92 L279.35,728.77 L279.68,729.33 L280.01,728.98 L280.34,729.07 L280.67,729.57 L281.00,729.60 L281.33,729.09 L281.66,729.32 L281.99,729.16 L282.32,729.27 L282.65,729.20 L282.98,729.17 L283.31,729.44 L283.64,729.22 L283.97,729.34 L284.30,729.36 L284.63,729.15 L284.96,729.44 L285.29,729.46 L285.62,729.09 L285.95,729.43 L286.28,729.54 L286.61,729.31 L286.94,728.93 L287.27,729.17 L287.60,729.46 L287.93,730.22 L288.26,730.02 L288.59,729.82 L288.92,729.39 L289.25,729.40 L289.58,728.98 L289.91,728.95 L290.24,728.98 L290.57,729.94 L290.90,729.97 L291.23,730.11 L291.56,729.45 L291.89,729.61 L292.22,729.81 L292.55,729.53 L292.88,729.26 L293.21,729.15 L293.54,729.13 L293.87,729.12 L294.20,729.08 L294.53,729.34 L294.86,729.53 L295.19,729.50 L295.52,729.59 L295.85,729.81 L296.18,729.58 L296.51,729.88 L296.84,729.25 L297.17,729.65 L297.50,729.58 L297.83,729.53 L298.16,729.71 L298.49,729.92 L298.82,730.24 L299.15,729.97 L299.48,730.38 L299.81,730.18 L300.14,730.29 L300.47,730.16 L300.80,729.88 L301.13,730.20 L301.46,729.52 L301.79,729.77 L302.12,729.44 L302.45,729.92 L302.78,729.76 L303.11,729.90 L303.44,730.24 L303.77,729.83 L304.10,729.76 L304.43,729.79 L304.76,729.97 L305.09,729.69 L305.42,729.98 L305.75,729.88 L306.08,730.07 L306.41,729.89 L306.74,729.36 L307.07,729.62 L307.40,729.64 L307.73,729.66 L308.06,730.11 L308.39,730.06 L308.72,729.53 L309.05,729.92 L309.38,730.05 L309.71,729.96 L310.04,730.42 L310.37,730.15 L310.70,730.20 L311.03,730.37 L311.36,730.56 L311.69,730.69 L312.02,729.48 L312.35,730.20 L312.68,729.85 L313.01,729.56 L313.34,729.72 L313.67,729.83 L314.00,729.61 L314.33,729.24 L314.66,729.48 L314.99,729.60 L315.32,730.17 L315.65,730.11 L315.98,729.98 L316.31,730.20 L316.64,729.87 L316.97,729.86 L317.30,730.14 L317.63,730.00 L317.96,729.71 L318.29,730.03 L318.62,730.18 L318.95,729.42 L319.28,729.79 L319.61,730.27 L319.94,729.77 L320.27,729.72 L320.60,730.21 L320.93,730.08 L321.26,730.70 L321.59,730.78 L321.92,730.64 L322.25,730.82 L322.58,729.92 L322.91,730.25 L323.24,730.27 L323.57,730.20 L323.90,730.36 L324.23,730.53 L324.56,730.62 L324.89,730.64 L325.22,730.56 L325.55,730.04 L325.88,729.99 L326.21,729.80 L326.54,729.69 L326.87,730.07 L327.20,730.44 L327.53,730.50 L327.86,729.69 L328.19,729.58 L328.52,729.97 L328.85,729.44 L329.18,729.84 L329.51,729.95 L329.84,729.88 L330.17,730.14 L330.50,729.96 L330.83,730.25 L331.16,730.07 L331.49,730.43 L331.82,729.81 L332.15,730.17 L332.48,730.40 L332.81,730.76 L333.14,729.66 L333.47,730.23 L333.80,729.48 L334.13,729.59 L334.46,730.03 L334.79,729.95 L335.12,729.84 L335.45,730.02 L335.78,730.28 L336.11,730.07 L336.44,730.24 L336.77,729.66 L337.10,729.33 L337.43,729.33 L337.76,729.10 L338.09,727.93 L338.42,725.79 L338.75,721.74 L339.08,715.47 L339.41,707.99 L339.70,704.26 L339.74,704.85 L340.07,709.56 L340.40,717.62 L340.73,723.61 L341.06,727.15 L341.39,728.85 L341.72,729.14 L342.05,729.32 L342.38,729.87 L342.71,730.46 L343.04,729.93 L343.37,730.20 L343.70,729.93 L344.03,730.44 L344.36,730.62 L344.69,730.35 L345.02,730.81 L345.35,731.04 L345.68,730.77 L346.01,730.23 L346.34,730.35 L346.67,729.87 L347.00,729.78 L347.33,730.32 L347.66,730.21 L347.99,730.21 L348.32,730.27 L348.65,730.42 L348.98,730.05 L349.31,730.32 L349.64,730.17 L349.97,730.08 L350.30,730.13 L350.63,729.95 L350.96,729.84 L351.29,729.80 L351.62,729.88 L351.95,729.45 L352.28,730.13 L352.61,730.30 L352.94,730.70 L353.27,729.72 L353.60,730.00 L353.93,729.62 L354.26,729.82 L354.59,730.09 L354.92,730.23 L355.25,730.40 L355.58,730.73 L355.91,731.03 L356.24,730.54 L356.57,730.77 L356.90,730.15 L357.23,730.22 L357.56,730.39 L357.89,729.87 L358.22,730.24 L358.55,730.38 L358.88,730.13 L359.21,730.65 L359.54,730.03 L359.87,730.32 L360.20,730.32 L360.53,730.18 L360.86,730.61 L361.19,730.91 L361.52,730.62 L361.85,730.63 L362.18,730.53 L362.51,730.67 L362.84,730.91 L363.17,730.46 L363.50,730.15 L363.83,730.03 L364.16,730.18 L364.49,730.40 L364.82,730.67 L365.15,730.80 L365.48,730.77 L365.81,730.50 L366.14,730.71 L366.47,730.56 L366.80,729.75 L367.13,729.74 L367.46,730.43 L367.79,730.11 L368.12,730.18 L368.45,730.62 L368.78,730.08 L369.11,730.15 L369.44,730.17 L369.77,729.98 L370.10,729.62 L370.43,729.93 L370.76,729.97 L371.09,730.25 L371.42,730.37 L371.75,730.44 L372.08,729.75 L372.41,729.81 L372.74,730.13 L373.07,729.91 L373.40,729.29 L373.73,729.72 L374.06,730.13 L374.39,729.77 L374.72,729.63 L375.05,730.13 L375.38,730.23 L375.71,730.12 L376.04,730.31 L376.37,730.70 L376.70,730.63 L377.03,730.71 L377.36,730.32 L377.69,730.35 L378.02,730.31 L378.35,730.16 L378.68,730.33 L379.01,730.59 L379.34,730.24 L379.67,730.57 L380.00,730.68 L380.33,730.30 L380.66,730.49 L380.99,730.09 L381.32,729.98 L381.65,730.54 L381.98,730.08 L382.31,730.14 L382.64,729.97 L382.97,730.35 L383.30,730.40 L383.63,730.52 L383.96,730.45 L384.29,729.98 L384.62,729.94 L384.95,730.12 L385.28,729.65 L385.61,729.23 L385.94,729.11 L386.27,728.28 L386.60,727.60 L386.93,726.86 L387.26,725.48 L387.59,724.15 L387.92,722.96 L388.25,721.74 L388.58,720.44 L388.80,720.42 L388.91,720.69 L389.24,721.18 L389.57,722.54 L389.90,724.18 L390.23,725.44 L390.56,726.07 L390.89,727.75 L391.22,728.06 L391.55,728.89 L391.88,729.30 L392.21,729.73 L392.54,729.60 L392.87,729.68 L393.20,729.83 L393.53,730.14 L393.86,729.80 L394.19,730.12 L394.52,730.22 L394.85,730.29 L395.18,730.23 L395.51,729.84 L395.84,730.45 L396.17,730.55 L396.50,730.82 L396.83,730.81 L397.16,730.64 L397.49,730.25 L397.82,730.41 L398.15,729.81 L398.48,730.29 L398.81,729.41 L399.14,729.71 L399.47,729.85 L399.80,730.57 L400.13,730.31 L400.46,730.31 L400.79,730.44 L401.12,729.98 L401.45,729.65 L401.78,729.63 L402.11,729.30 L402.44,729.37 L402.77,729.53 L403.10,729.28 L403.43,729.70 L403.76,729.77 L404.09,729.87 L404.42,730.08 L404.75,730.15 L405.08,730.11 L405.41,730.22 L405.74,730.24 L406.07,730.09 L406.40,730.28 L406.73,730.28 L407.06,730.38 L407.39,730.31 L407.72,730.42 L408.05,729.67 L408.38,730.19 L408.71,730.02 L409.04,729.74 L409.37,730.20 L409.70,730.00 L410.03,729.46 L410.36,728.92 L410.69,727.70 L411.02,726.56 L411.35,725.96 L411.68,725.32 L411.80,725.49 L412.01,726.05 L412.34,726.94 L412.67,727.66 L413.00,728.88 L413.33,729.40 L413.66,729.69 L413.99,729.42 L414.32,729.85 L414.65,730.05 L414.98,729.75 L415.31,730.00 L415.64,729.69 L415.97,729.64 L416.30,729.92 L416.63,730.25 L416.96,729.96 L417.29,730.09 L417.62,730.53 L417.95,730.66 L418.28,730.79 L418.61,730.43 L418.94,730.85 L419.27,730.13 L419.60,730.63 L419.93,729.81 L420.26,730.01 L420.59,730.10 L420.92,729.79 L421.25,729.90 L421.58,729.68 L421.91,729.58 L422.24,729.31 L422.57,728.76 L422.90,728.34 L423.23,726.69 L423.56,724.10 L423.89,721.76 L424.22,718.21 L424.55,715.35 L424.70,715.43 L424.88,715.71 L425.21,718.54 L425.54,722.31 L425.87,724.80 L426.20,726.94 L426.53,727.60 L426.86,728.18 L427.19,728.57 L427.52,728.62 L427.85,729.18 L428.18,729.26 L428.51,729.46 L428.84,729.27 L429.17,728.91 L429.50,728.84 L429.83,729.15 L430.16,728.85 L430.49,727.78 L430.82,726.75 L431.15,724.41 L431.48,720.83 L431.81,717.26 L432.14,714.32 L432.30,713.59 L432.47,714.50 L432.80,717.37 L433.13,721.14 L433.46,724.49 L433.79,726.81 L434.12,727.94 L434.45,728.51 L434.78,728.58 L435.11,728.85 L435.44,729.41 L435.77,729.36 L436.10,729.57 L436.43,729.86 L436.76,730.07 L437.09,730.07 L437.42,730.06 L437.75,730.11 L438.08,729.98 L438.41,729.71 L438.74,729.84 L439.07,729.65 L439.40,729.76 L439.73,729.64 L440.06,730.31 L440.39,730.04 L440.72,730.37 L441.05,730.89 L441.38,730.34 L441.71,730.12 L442.04,730.02 L442.37,729.97 L442.70,729.75 L443.03,730.33 L443.36,730.58 L443.69,730.24 L444.02,730.69 L444.35,730.56 L444.68,729.99 L445.01,730.40 L445.34,730.82 L445.67,730.28 L446.00,730.60 L446.33,730.31 L446.66,729.97 L446.99,730.02 L447.32,730.13 L447.65,729.65 L447.98,729.86 L448.31,729.74 L448.64,730.09 L448.97,730.10 L449.30,729.89 L449.63,729.87 L449.96,730.38 L450.29,730.37 L450.62,730.05 L450.95,730.19 L451.28,730.55 L451.61,730.46 L451.94,730.81 L452.27,730.52 L452.60,730.51 L452.93,730.19 L453.26,730.68 L453.59,730.57 L453.92,730.21 L454.25,730.15 L454.58,729.97 L454.91,730.10 L455.24,730.54 L455.57,729.84 L455.90,730.41 L456.23,730.45 L456.56,730.11 L456.89,730.78 L457.22,730.14 L457.55,730.61 L457.88,730.43 L458.21,730.47 L458.54,730.59 L458.87,730.24 L459.20,729.98 L459.53,729.76 L459.86,729.51 L460.19,729.32 L460.52,729.23 L460.85,729.39 L461.18,729.65 L461.51,729.04 L461.84,728.83 L462.17,728.99 L462.50,728.84 L462.83,728.40 L463.16,728.89 L463.49,729.38 L463.70,729.30 L463.82,729.48 L464.15,729.53 L464.48,729.59 L464.81,729.80 L465.14,730.01 L465.47,729.83 L465.80,729.98 L466.13,729.92 L466.46,729.76 L466.79,730.32 L467.12,730.68 L467.45,730.03 L467.78,730.17 L468.11,730.41 L468.44,729.77 L468.77,729.84 L469.10,730.29 L469.43,730.41 L469.76,730.31 L470.09,730.04 L470.42,730.73 L470.75,730.27 L471.08,730.48 L471.41,729.98 L471.74,730.37 L472.07,730.27 L472.40,729.78 L472.73,730.14 L473.06,730.74 L473.39,730.64 L473.72,730.49 L474.05,730.68 L474.38,730.83 L474.71,730.35 L475.04,730.31 L475.37,730.68 L475.70,730.71 L476.03,730.58 L476.36,730.37 L476.69,730.21 L477.02,729.96 L477.35,730.02 L477.68,730.31 L478.01,730.13 L478.34,730.01 L478.67,730.55 L479.00,730.01 L479.33,730.48 L479.66,730.56 L479.99,730.71 L480.32,730.22 L480.65,730.36 L480.98,730.10 L481.31,730.27 L481.64,730.65 L481.97,730.25 L482.30,730.20 L482.63,730.38 L482.96,730.55 L483.29,730.51 L483.62,730.74 L483.95,730.41 L484.28,730.47 L484.61,730.36 L484.94,730.40 L485.27,730.36 L485.60,730.09 L485.93,729.92 L486.26,729.60 L486.59,729.40 L486.92,729.62 L487.25,729.84 L487.58,729.97 L487.91,729.77 L488.24,730.01 L488.57,729.90 L488.90,729.91 L489.23,730.01 L489.56,729.83 L489.89,729.57 L490.22,729.24 L490.55,729.26 L490.88,728.31 L491.21,728.41 L491.54,727.46 L491.80,727.37 L491.87,728.00 L492.20,728.33 L492.53,728.51 L492.86,729.25 L493.19,729.34 L493.52,729.50 L493.85,730.13 L494.18,730.32 L494.51,730.17 L494.84,730.23 L495.17,730.07 L495.50,730.03 L495.83,729.98 L496.16,730.08 L496.49,730.11 L496.82,730.38 L497.15,730.86 L497.48,730.02 L497.81,730.12 L498.14,730.22 L498.47,730.08 L498.80,729.59 L499.13,730.40 L499.46,730.70 L499.79,730.85 L500.12,730.82 L500.45,730.90 L500.78,731.00 L501.11,730.83 L501.44,730.32 L501.77,730.09 L502.10,730.27 L502.43,730.69 L502.76,730.97 L503.09,731.16 L503.42,731.14 L503.75,730.51 L504.08,730.49 L504.41,729.47 L504.74,729.84 L505.07,729.79 L505.40,729.78 L505.73,729.76 L506.06,729.94 L506.39,729.93 L506.72,729.55 L507.05,729.97 L507.38,729.88 L507.71,729.54 L508.04,730.07 L508.37,729.99 L508.70,729.87 L509.03,730.24 L509.36,730.39 L509.69,730.06 L510.02,730.30 L510.35,730.61 L510.68,730.26 L511.01,730.19 L511.34,730.75 L511.67,731.03 L512.00,730.81 L512.33,730.46" stroke="#111" stroke-width="1.7" fill="none" stroke-linejoin="round"/>
<g font-family="Liberation Sans" font-weight="bold" font-size="20" text-anchor="end" fill="#000">
<text x="511" y="86.6" font-size="20.5">B1 sample</text>
<text x="511.8" y="258.7" font-size="20.8">A1 sample</text>
<text x="513.2" y="431" font-size="21.1">Chit/EE100</text>
<text x="512.6" y="600.8" font-size="20.3">Ti grade 2</text>
<text x="512.4" y="619.2" font-size="16.6">x Ti-<tspan font-weight="normal">α</tspan> (26650020)</text>
</g>
<g font-family="Liberation Sans" font-weight="bold" font-size="17" text-anchor="middle" fill="#000">
<text x="162.6" y="679.4">x</text>
<text x="182" y="703">x</text>
<text x="194.6" y="593">x</text>
<text x="276" y="711.7">x</text>
<text x="340.8" y="697.9">x</text>
<text x="389.7" y="714.8">x</text>
<text x="413" y="721.3">x</text>
<text x="423.3" y="709.1">x</text>
<text x="433.9" y="706.9">x</text>
<text x="463.2" y="721.3">x</text>
<text x="492.5" y="721.3">x</text>
</g>
<g font-family="Liberation Sans" font-weight="bold" font-size="16.3" text-anchor="middle" fill="#000">
<text x="65.6" y="773.2">20</text>
<text x="129.6" y="773.2">30</text>
<text x="193.6" y="773.2">40</text>
<text x="257.6" y="773.2">50</text>
<text x="321.6" y="773.2">60</text>
<text x="385.6" y="773.2">70</text>
<text x="449.6" y="773.2">80</text>
<text x="513.6" y="773.2">90</text>
</g>
<text x="289.4" y="809.7" font-family="Liberation Sans" font-size="23" text-anchor="middle" fill="#000">2θ (deg)</text>
<text transform="translate(40.6,409.75) rotate(-90)" font-family="Liberation Sans" font-size="23.5" text-anchor="middle" fill="#000">Intensity (a.u.)</text>
<g font-family="Liberation Sans" font-size="42" fill="#000" stroke="#000" stroke-width="0.6">
<text x="13.6" y="51">a</text><text x="41.5" y="51">)</text>
<text x="541.5" y="51">b</text><text x="569.6" y="51">)</text>
</g>
<rect x="604.3" y="66.3" width="447.5" height="684.3000000000001" fill="none" stroke="#1c1c1c" stroke-width="2.1" stroke-linejoin="round"/>
<path d="M638.1,750.6 V745.6 M638.1,66.3 V71.3 M672.1,750.6 V741.6 M672.1,66.3 V75.3 M706.0,750.6 V745.6 M706.0,66.3 V71.3 M740.0,750.6 V741.6 M740.0,66.3 V75.3 M773.9,750.6 V745.6 M773.9,66.3 V71.3 M807.9,750.6 V741.6 M807.9,66.3 V75.3 M841.8,750.6 V745.6 M841.8,66.3 V71.3 M875.7,750.6 V741.6 M875.7,66.3 V75.3 M909.7,750.6 V745.6 M909.7,66.3 V71.3 M943.6,750.6 V741.6 M943.6,66.3 V75.3 M977.6,750.6 V745.6 M977.6,66.3 V71.3 M1011.5,750.6 V741.6 M1011.5,66.3 V75.3 M1045.5,750.6 V745.6 M1045.5,66.3 V71.3" stroke="#000" stroke-width="1.5" fill="none"/>
<g font-family="Liberation Sans" font-weight="bold" font-size="16.3" text-anchor="middle" fill="#000">
<text x="604.2" y="773.2">4000</text>
<text x="672.1" y="773.2">3500</text>
<text x="740.0" y="773.2">3000</text>
<text x="807.9" y="773.2">2500</text>
<text x="875.7" y="773.2">2000</text>
<text x="943.6" y="773.2">1500</text>
<text x="1011.5" y="773.2">1000</text>
</g>
<text x="727.4" y="810.4" font-family="Liberation Sans" font-size="23.2" fill="#000">Wavenumber (cm<tspan dy="-11.3" dx="1" font-size="23">-1</tspan><tspan dy="11.3" dx="1.5">)</tspan></text>
<text transform="translate(574.2,414.4) rotate(-90)" font-family="Liberation Sans" font-size="23.5" text-anchor="middle" fill="#000">Transmittance (%)</text>
<g font-family="Liberation Sans" font-weight="bold" font-size="16.4" letter-spacing="0.12" fill="#000">
<text x="614.4" y="98.5">B1 sample</text>
<text x="613.4" y="268.8">A1 sample</text>
<text x="612.8" y="438.6">Chit/EE100</text>
<text x="613.2" y="614.5">Ti grade 2</text>
</g>
<path d="M604.0,110.1 L604.8,110.1 L605.6,110.2 L606.4,110.2 L607.2,110.1 L608.0,110.1 L608.8,110.5 L609.6,110.2 L610.4,110.3 L611.2,110.3 L612.0,110.5 L612.8,110.5 L613.6,110.3 L614.4,109.9 L615.2,110.5 L616.0,110.4 L616.8,110.2 L617.6,110.5 L618.4,110.3 L619.2,110.1 L620.0,110.7 L620.0,110.6 L620.8,109.6 L621.6,110.5 L622.4,110.1 L623.2,110.6 L624.0,109.9 L624.8,110.2 L625.6,110.0 L626.4,110.1 L627.2,110.1 L628.0,110.2 L628.8,109.8 L629.6,109.9 L630.4,110.0 L631.2,109.8 L632.0,110.0 L632.8,109.7 L633.6,109.9 L634.4,109.6 L635.2,109.5 L636.0,109.8 L636.6,110.2 L636.8,110.1 L637.6,110.2 L638.4,110.0 L639.2,109.9 L640.0,110.1 L640.8,109.7 L641.6,110.0 L642.4,109.9 L643.2,110.4 L644.0,110.3 L644.8,110.1 L645.6,110.3 L646.4,110.6 L647.2,110.4 L648.0,110.6 L648.8,110.7 L648.8,110.6 L649.6,111.3 L650.4,111.0 L651.2,111.1 L652.0,111.5 L652.8,112.6 L653.6,112.5 L654.4,112.7 L655.2,113.0 L656.0,114.0 L656.8,114.8 L657.6,114.8 L658.4,115.0 L658.6,115.4 L659.2,115.3 L660.0,115.6 L660.8,115.9 L661.6,116.2 L662.4,116.3 L663.2,116.9 L664.0,117.6 L664.8,117.1 L665.6,117.4 L666.4,118.0 L667.2,118.1 L668.0,118.3 L668.4,118.5 L668.8,118.6 L669.6,118.7 L670.4,119.0 L671.2,119.2 L672.0,119.0 L672.8,119.5 L673.6,119.5 L674.4,119.4 L675.2,120.1 L676.0,119.8 L676.8,120.2 L677.6,120.0 L678.4,120.5 L679.2,120.0 L680.0,120.3 L680.8,120.3 L681.6,120.3 L681.8,120.9 L682.4,120.1 L683.2,120.2 L684.0,120.2 L684.8,120.6 L685.6,120.2 L686.4,119.9 L687.2,120.0 L688.0,119.7 L688.8,119.6 L689.6,120.1 L690.4,119.3 L691.2,119.3 L692.0,119.2 L692.8,118.6 L693.6,118.9 L694.4,118.4 L695.2,118.1 L696.0,118.5 L696.8,118.3 L697.6,118.3 L697.7,117.8 L698.4,118.5 L699.2,118.3 L700.0,117.6 L700.8,117.8 L701.6,117.5 L702.4,117.7 L703.2,117.5 L704.0,117.3 L704.8,117.2 L705.6,116.9 L706.4,116.7 L707.2,116.7 L708.0,116.8 L708.8,116.5 L709.6,116.5 L710.4,116.1 L711.2,116.2 L712.0,116.2 L712.8,116.0 L713.6,115.6 L714.4,116.1 L715.2,115.8 L716.0,115.3 L716.0,115.7 L716.8,115.3 L717.6,115.4 L718.4,115.1 L719.2,114.7 L720.0,114.8 L720.8,115.3 L721.6,115.0 L722.4,114.6 L723.2,114.3 L724.0,114.1 L724.8,114.1 L725.6,114.2 L726.4,114.2 L727.2,114.3 L727.5,113.5 L728.0,113.6 L728.8,113.7 L729.6,113.3 L730.4,113.5 L731.2,113.0 L732.0,113.2 L732.8,112.9 L733.5,113.3 L733.6,113.0 L734.4,113.0 L735.2,113.6 L736.0,113.7 L736.8,115.0 L737.3,114.6 L737.6,114.6 L738.4,114.6 L739.2,115.7 L740.0,116.1 L740.8,116.2 L741.6,116.9 L742.4,118.0 L742.5,118.2 L743.2,118.8 L744.0,120.8 L744.8,122.9 L744.8,123.2 L745.6,123.9 L746.4,125.6 L747.2,127.3 L748.0,128.0 L748.8,129.1 L749.6,129.4 L749.7,129.3 L750.4,128.6 L751.2,128.0 L752.0,126.6 L752.8,125.3 L753.6,123.6 L754.4,123.4 L754.6,123.8 L755.2,123.2 L756.0,123.1 L756.8,123.8 L757.5,123.7 L757.6,124.1 L758.4,124.7 L759.2,125.1 L759.4,125.3 L760.0,123.3 L760.8,120.4 L760.9,120.4 L761.6,119.9 L762.4,119.6 L763.2,119.6 L763.6,119.4 L764.0,119.2 L764.8,118.5 L765.6,117.9 L766.4,117.4 L767.0,117.3 L767.2,116.8 L768.0,117.5 L768.8,118.2 L769.6,119.3 L770.4,119.8 L771.1,119.7 L771.2,119.6 L772.0,119.1 L772.8,118.0 L773.6,116.3 L774.4,115.3 L774.8,115.2 L775.2,115.3 L776.0,115.4 L776.8,115.2 L777.6,114.7 L778.4,114.5 L779.2,115.0 L779.3,114.3 L780.0,114.3 L780.8,113.7 L781.6,113.5 L782.4,113.0 L782.4,113.0 L783.2,113.0 L784.0,112.7 L784.8,112.9 L785.6,112.8 L786.4,113.1 L787.2,112.7 L788.0,112.7 L788.8,113.6 L789.6,112.8 L790.4,113.0 L791.2,112.8 L792.0,112.7 L792.8,112.7 L793.6,112.4 L794.4,112.4 L795.2,112.6 L796.0,112.7 L796.8,112.8 L797.6,112.5 L798.4,112.6 L799.2,112.5 L800.0,112.8 L800.0,112.5 L800.8,112.7 L801.6,112.7 L802.4,112.3 L803.2,112.6 L804.0,112.3 L804.8,113.0 L805.6,112.4 L806.4,112.5 L807.2,112.2 L808.0,112.5 L808.8,112.7 L809.6,112.5 L810.4,112.3 L811.2,112.5 L812.0,112.5 L812.8,112.6 L813.6,112.1 L814.4,112.6 L815.2,112.3 L816.0,112.5 L816.8,112.3 L817.6,112.2 L818.4,112.5 L819.2,112.0 L820.0,112.1 L820.8,111.9 L821.6,112.3 L822.4,112.3 L823.2,112.4 L824.0,111.8 L824.8,112.1 L825.6,111.8 L826.4,112.2 L827.2,111.9 L828.0,111.7 L828.8,112.5 L829.6,112.2 L830.0,112.4 L830.4,112.4 L831.2,112.2 L832.0,112.1 L832.8,112.2 L833.6,112.0 L834.4,112.0 L835.2,111.6 L836.0,112.1 L836.8,112.1 L837.6,111.9 L838.4,112.1 L839.2,112.1 L840.0,111.8 L840.8,112.2 L841.6,111.9 L842.4,112.3 L843.2,112.3 L844.0,112.1 L844.8,111.9 L845.6,112.1 L846.4,112.2 L847.2,111.9 L848.0,112.0 L848.8,112.0 L849.6,111.9 L850.4,112.4 L851.2,112.1 L852.0,112.1 L852.8,111.9 L853.6,112.4 L854.4,111.9 L855.2,112.5 L856.0,112.4 L856.8,111.7 L857.6,112.0 L858.4,112.5 L859.2,112.2 L860.0,112.0 L860.8,112.3 L861.6,112.1 L862.4,112.3 L863.2,112.0 L864.0,112.4 L864.8,112.4 L865.6,112.4 L866.4,112.0 L867.2,112.1 L868.0,112.1 L868.8,112.8 L869.6,112.0 L870.0,112.2 L870.4,111.9 L871.2,112.5 L872.0,111.9 L872.8,112.1 L873.6,112.3 L874.4,112.1 L875.2,112.6 L876.0,112.3 L876.8,112.5 L877.6,112.3 L878.4,112.3 L879.2,112.5 L880.0,112.3 L880.8,112.1 L881.6,112.0 L882.4,112.6 L883.2,112.3 L884.0,112.3 L884.8,112.4 L885.6,112.6 L886.4,112.3 L887.2,112.0 L888.0,112.0 L888.8,112.3 L889.6,111.9 L890.4,112.5 L891.2,112.6 L892.0,111.8 L892.8,112.2 L893.6,112.1 L894.4,112.9 L895.2,112.1 L896.0,112.6 L896.8,112.7 L897.6,112.3 L898.4,112.4 L899.2,112.6 L900.0,111.7 L900.0,112.2 L900.8,112.2 L901.6,111.9 L902.4,112.0 L903.2,112.3 L904.0,112.3 L904.8,111.8 L905.6,112.4 L906.0,112.5 L906.4,112.4 L907.2,112.3 L907.8,112.2 L908.0,112.5 L908.8,113.9 L909.2,115.2 L909.6,126.6 L909.9,138.2 L910.4,150.9 L911.1,165.3 L911.2,167.5 L912.0,179.8 L912.3,181.2 L912.8,180.4 L913.6,174.2 L913.9,170.9 L914.4,160.6 L915.0,138.5 L915.2,126.1 L915.2,126.4 L916.0,123.2 L916.8,121.6 L917.4,121.5 L917.6,121.0 L918.4,122.6 L919.2,125.0 L919.6,125.3 L920.0,126.0 L920.8,126.6 L921.6,127.6 L922.4,128.3 L923.2,128.7 L923.4,128.4 L924.0,128.4 L924.8,127.0 L925.6,125.4 L926.4,124.0 L927.2,122.9 L928.0,122.0 L928.4,121.7 L928.8,122.0 L929.6,122.7 L930.4,124.0 L931.2,125.1 L932.0,125.8 L932.2,126.2 L932.8,127.2 L933.6,128.1 L934.4,128.3 L935.2,129.0 L935.5,128.8 L936.0,128.7 L936.8,127.8 L937.6,126.5 L938.4,124.9 L938.8,124.0 L939.2,122.9 L940.0,120.5 L940.8,118.9 L941.5,117.6 L941.6,118.0 L942.4,119.1 L943.2,121.1 L943.4,121.5 L944.0,123.3 L944.8,127.4 L945.6,131.7 L945.7,131.4 L946.4,134.9 L947.2,139.2 L948.0,142.4 L948.4,144.0 L948.8,145.1 L949.6,147.1 L949.7,147.0 L950.4,145.9 L951.2,142.9 L951.7,141.2 L952.0,139.9 L952.8,135.9 L953.6,133.9 L953.7,134.1 L954.4,133.4 L955.2,132.8 L955.7,133.0 L956.0,132.9 L956.8,134.8 L957.6,136.3 L958.4,137.2 L958.4,137.0 L959.2,136.4 L960.0,134.5 L960.8,133.5 L961.1,133.2 L961.6,132.9 L962.4,133.4 L963.1,133.7 L963.2,133.9 L964.0,132.8 L964.8,131.2 L965.6,130.3 L965.8,130.3 L966.4,130.8 L967.2,130.4 L968.0,130.8 L968.4,131.2 L968.8,131.4 L969.6,132.4 L970.4,133.8 L971.1,135.2 L971.2,135.5 L972.0,137.1 L972.8,140.2 L973.1,141.1 L973.6,145.0 L974.4,151.6 L974.5,152.0 L975.2,150.9 L976.0,148.3 L976.5,148.0 L976.8,148.3 L977.6,151.5 L978.4,154.5 L978.5,154.7 L979.2,152.0 L980.0,144.8 L980.5,141.0 L980.8,139.2 L981.6,135.2 L981.8,135.3 L982.4,136.3 L983.1,139.8 L983.2,140.2 L984.0,147.0 L984.8,154.6 L985.2,157.5 L985.6,159.4 L986.4,162.1 L986.8,163.5 L987.2,165.6 L988.0,168.8 L988.8,172.7 L989.1,174.6 L989.6,179.0 L990.4,188.5 L990.5,190.0 L991.2,204.9 L991.4,206.6 L992.0,201.3 L992.7,193.7 L992.8,193.7 L993.6,192.7 L994.1,192.6 L994.4,192.7 L995.2,193.8 L995.9,195.8 L996.0,196.3 L996.8,198.5 L997.6,202.1 L998.2,202.8 L998.4,202.6 L999.2,202.1 L1000.0,201.1 L1000.5,199.9 L1000.8,200.0 L1001.6,199.8 L1002.4,199.0 L1003.2,198.4 L1003.2,198.3 L1004.0,189.5 L1004.6,184.9 L1004.8,184.6 L1005.6,185.3 L1006.4,185.2 L1006.9,185.3 L1007.2,185.4 L1008.0,185.6 L1008.8,184.4 L1009.6,182.9 L1009.6,182.7 L1010.4,173.0 L1010.5,172.4 L1011.2,171.2 L1012.0,170.6 L1012.3,170.5 L1012.8,168.3 L1013.6,165.2 L1014.2,164.8 L1014.4,165.1 L1015.2,168.5 L1016.0,171.7 L1016.0,172.2 L1016.8,172.9 L1017.6,174.5 L1018.3,174.1 L1018.4,174.0 L1019.2,171.6 L1020.0,168.3 L1020.1,167.4 L1020.8,163.7 L1021.6,159.1 L1021.9,158.3 L1022.4,156.5 L1023.2,154.5 L1024.0,152.7 L1024.2,153.1 L1024.8,152.7 L1025.6,153.3 L1026.4,154.2 L1027.2,155.0 L1027.8,155.1 L1028.0,155.3 L1028.8,155.9 L1029.6,156.9 L1029.7,157.1 L1030.4,159.7 L1031.2,164.1 L1031.9,166.1 L1032.0,165.8 L1032.8,164.6 L1033.6,162.1 L1034.2,160.9 L1034.4,161.2 L1035.2,160.0 L1036.0,159.6 L1036.8,158.6 L1037.6,158.4 L1038.4,158.1 L1038.8,158.1 L1039.2,158.3 L1040.0,159.5 L1040.8,161.0 L1041.5,162.2 L1041.6,162.8 L1042.4,163.6 L1043.2,165.7 L1043.5,166.3 L1044.0,168.8 L1044.6,174.3 L1044.8,176.6 L1045.2,181.7 L1045.6,180.4 L1046.4,174.0 L1046.5,173.4 L1047.2,171.9 L1047.9,171.3 L1048.0,171.1 L1048.8,171.1 L1049.6,171.1 L1050.4,170.9 L1051.1,171.2" stroke="#000" stroke-width="3.5" fill="none" stroke-linejoin="round" stroke-linecap="round"/>
<path d="M604.0,283.5 L604.8,283.2 L605.6,283.4 L606.4,283.6 L607.2,283.6 L608.0,283.6 L608.8,283.4 L609.6,283.7 L610.4,283.5 L611.2,283.3 L612.0,283.6 L612.8,284.0 L613.6,284.0 L614.4,283.7 L615.2,284.0 L616.0,283.9 L616.8,283.7 L617.6,284.0 L618.4,283.8 L619.2,283.8 L620.0,284.0 L620.8,283.7 L621.6,284.0 L622.4,284.2 L623.2,284.2 L624.0,283.9 L624.8,284.2 L625.6,283.7 L626.4,284.1 L627.2,283.9 L628.0,284.3 L628.8,284.0 L629.6,284.1 L630.0,284.1 L630.4,283.8 L631.2,283.4 L632.0,283.8 L632.8,284.0 L633.6,284.4 L634.4,284.0 L635.2,284.2 L636.0,284.0 L636.8,284.1 L637.6,284.2 L638.4,284.0 L639.2,284.3 L640.0,284.5 L640.8,284.4 L641.6,283.9 L642.4,284.3 L643.2,284.3 L644.0,284.3 L644.8,284.0 L645.6,284.4 L646.4,284.2 L647.2,284.0 L648.0,284.3 L648.8,284.1 L649.6,283.8 L649.7,284.1 L650.4,283.8 L651.2,284.0 L652.0,284.3 L652.8,283.8 L653.6,284.2 L654.4,284.4 L655.2,284.4 L656.0,284.5 L656.8,284.5 L657.6,284.8 L658.4,284.9 L659.2,285.3 L660.0,285.3 L660.8,285.7 L661.6,285.8 L662.4,285.8 L663.2,286.0 L664.0,285.8 L664.8,286.4 L665.0,286.2 L665.6,286.0 L666.4,286.1 L667.2,286.2 L668.0,286.1 L668.8,286.6 L669.6,286.2 L670.4,286.6 L671.2,286.7 L672.0,286.6 L672.8,286.9 L673.6,287.0 L674.4,286.6 L675.2,286.5 L676.0,286.9 L676.8,287.2 L677.6,287.1 L678.4,287.2 L679.2,287.2 L680.0,287.4 L680.0,286.9 L680.8,287.1 L681.6,287.6 L682.4,286.8 L683.2,286.7 L684.0,286.9 L684.8,287.0 L685.6,287.0 L686.4,286.9 L687.2,287.1 L688.0,287.2 L688.8,286.8 L689.6,286.5 L690.4,286.6 L691.2,286.6 L692.0,286.7 L692.8,286.3 L693.6,286.7 L694.4,286.4 L695.2,286.6 L696.0,286.2 L696.8,286.1 L697.6,286.8 L698.4,285.7 L699.2,286.0 L700.0,286.0 L700.0,285.9 L700.8,285.7 L701.6,286.1 L702.4,285.7 L703.2,285.6 L704.0,285.8 L704.8,285.6 L705.6,285.3 L706.4,285.2 L707.2,285.4 L708.0,285.5 L708.8,285.3 L709.6,285.3 L710.4,285.3 L711.2,284.8 L712.0,285.2 L712.8,284.9 L713.6,285.3 L714.4,284.9 L715.2,284.5 L716.0,284.6 L716.8,284.0 L717.6,284.3 L718.4,284.4 L719.2,284.4 L720.0,284.4 L720.8,284.1 L721.6,283.9 L722.4,283.9 L723.2,283.7 L724.0,284.2 L724.8,283.6 L725.6,283.5 L726.4,284.2 L727.2,283.6 L728.0,283.8 L728.8,283.7 L729.6,283.5 L730.4,283.6 L731.2,283.8 L732.0,283.4 L732.8,283.1 L733.6,283.0 L734.0,283.2 L734.4,283.4 L735.2,283.8 L736.0,284.0 L736.8,284.3 L737.6,284.6 L738.4,285.1 L739.2,285.0 L740.0,285.5 L740.0,285.0 L740.8,286.1 L741.6,287.5 L742.4,288.3 L743.2,289.9 L744.0,291.2 L744.8,292.7 L745.0,292.9 L745.6,294.4 L746.4,296.2 L747.2,298.7 L748.0,300.2 L748.8,301.2 L749.0,301.6 L749.6,300.5 L750.4,298.7 L751.0,297.2 L751.2,296.3 L752.0,294.1 L752.8,292.0 L753.6,291.2 L753.8,291.0 L754.4,291.2 L755.2,291.9 L756.0,292.0 L756.8,293.1 L757.0,293.0 L757.6,293.8 L758.4,295.3 L759.2,296.9 L759.8,298.0 L760.0,297.5 L760.8,296.1 L761.6,294.9 L762.0,294.1 L762.4,293.7 L763.2,292.9 L764.0,291.6 L764.8,291.2 L765.2,291.4 L765.6,291.6 L766.4,291.7 L767.2,292.3 L768.0,292.2 L768.0,292.7 L768.8,292.6 L769.6,293.9 L770.4,294.8 L771.2,295.4 L771.7,295.5 L772.0,295.3 L772.8,294.2 L773.6,292.3 L774.0,292.0 L774.4,291.5 L775.2,290.6 L776.0,289.6 L776.8,288.7 L777.0,289.2 L777.6,288.1 L778.4,288.0 L779.2,288.1 L780.0,287.8 L780.0,287.1 L780.8,287.5 L781.6,287.0 L782.4,287.0 L783.2,286.9 L784.0,286.8 L784.8,286.1 L785.6,286.2 L786.4,286.4 L787.2,286.3 L788.0,286.5 L788.8,286.2 L789.6,286.3 L790.0,286.2 L790.4,286.2 L791.2,285.7 L792.0,286.4 L792.8,286.0 L793.6,285.8 L794.4,285.8 L795.2,285.7 L796.0,285.8 L796.8,285.4 L797.6,286.0 L798.4,285.6 L799.2,286.0 L800.0,285.6 L800.8,285.9 L801.6,286.0 L802.4,285.8 L803.2,285.7 L804.0,285.7 L804.8,285.6 L805.6,285.6 L806.4,286.1 L807.2,285.4 L808.0,285.5 L808.8,285.5 L809.6,285.6 L810.4,285.8 L811.2,285.6 L812.0,285.9 L812.8,285.4 L813.6,285.7 L814.4,285.7 L815.2,285.4 L816.0,285.6 L816.8,285.5 L817.6,285.4 L818.4,285.4 L819.2,285.8 L820.0,285.4 L820.0,285.8 L820.8,285.9 L821.6,285.9 L822.4,286.1 L823.2,285.9 L824.0,286.5 L824.0,286.7 L824.8,287.1 L825.6,287.8 L826.4,288.1 L826.8,288.0 L827.2,287.7 L828.0,286.9 L828.8,286.4 L829.0,286.2 L829.6,286.6 L830.4,286.1 L831.2,285.9 L832.0,286.0 L832.8,286.6 L833.6,286.1 L834.4,285.7 L835.2,286.3 L836.0,285.9 L836.8,285.9 L837.6,285.7 L838.4,286.0 L839.2,286.0 L840.0,285.6 L840.8,285.8 L841.6,285.4 L842.4,286.0 L843.2,285.5 L844.0,285.5 L844.8,285.5 L845.6,285.4 L846.4,285.7 L847.2,285.5 L848.0,285.8 L848.8,285.7 L849.6,285.9 L850.4,285.9 L851.2,285.4 L852.0,285.6 L852.8,285.4 L853.6,285.5 L854.4,285.7 L855.2,285.6 L856.0,285.4 L856.8,285.6 L857.6,285.5 L858.4,285.6 L859.2,285.0 L860.0,285.3 L860.0,285.7 L860.8,285.1 L861.6,285.4 L862.4,285.4 L863.2,285.3 L864.0,285.4 L864.8,285.5 L865.6,285.4 L866.4,285.3 L867.2,285.5 L868.0,285.6 L868.8,285.6 L869.6,285.0 L870.4,285.7 L871.2,285.5 L872.0,285.3 L872.8,285.6 L873.6,285.5 L874.4,285.5 L875.2,285.2 L876.0,284.9 L876.8,285.7 L877.6,285.4 L878.4,285.2 L879.2,285.2 L880.0,285.2 L880.8,285.5 L881.6,285.0 L882.4,285.1 L883.2,285.8 L884.0,285.0 L884.8,285.4 L885.6,285.3 L886.4,285.3 L887.2,285.5 L888.0,285.2 L888.8,285.5 L889.6,285.2 L890.4,285.1 L891.2,285.1 L892.0,285.1 L892.8,285.4 L893.6,285.4 L894.4,285.2 L895.2,285.0 L896.0,285.0 L896.8,285.2 L897.6,285.5 L898.4,285.4 L899.2,285.1 L900.0,285.5 L900.0,284.8 L900.8,284.8 L901.6,284.9 L902.4,285.5 L903.2,285.1 L904.0,285.3 L904.8,285.5 L905.6,285.5 L906.0,285.9 L906.4,285.9 L907.2,286.5 L908.0,288.2 L908.0,287.6 L908.8,294.8 L909.5,304.9 L909.6,306.5 L910.4,327.2 L911.0,345.1 L911.2,351.6 L912.0,376.8 L912.1,377.2 L912.8,368.4 L913.2,360.3 L913.6,348.9 L914.4,321.8 L914.5,320.1 L915.2,307.6 L916.0,299.8 L916.0,300.1 L916.8,298.1 L917.5,297.6 L917.6,297.4 L918.4,297.4 L919.2,298.1 L920.0,298.9 L920.8,299.8 L921.0,300.4 L921.6,300.6 L922.4,301.4 L923.2,301.3 L924.0,302.4 L924.0,302.1 L924.8,301.6 L925.6,300.0 L926.4,298.0 L927.2,295.8 L928.0,294.6 L928.3,294.7 L928.8,294.9 L929.6,297.0 L930.4,298.8 L931.2,300.9 L931.5,302.0 L932.0,303.1 L932.8,305.5 L933.6,307.8 L934.4,309.7 L935.1,310.3 L935.2,309.9 L936.0,309.1 L936.8,308.1 L937.6,307.7 L937.6,307.3 L938.4,305.6 L939.2,302.6 L939.7,300.5 L940.0,298.9 L940.8,292.1 L941.0,290.3 L941.6,282.2 L941.8,280.7 L942.4,284.1 L943.1,290.4 L943.2,290.7 L944.0,293.6 L944.4,295.9 L944.8,309.1 L944.8,309.1 L945.6,310.3 L946.4,310.2 L946.9,310.6 L947.2,312.1 L948.0,319.3 L948.6,323.8 L948.8,324.1 L949.6,325.9 L949.9,326.3 L950.4,325.5 L951.2,321.5 L952.0,317.9 L952.0,317.3 L952.8,314.5 L953.6,312.5 L953.7,312.8 L954.4,312.3 L955.2,313.5 L956.0,313.8 L956.3,314.3 L956.8,314.7 L957.6,315.4 L958.4,316.9 L959.2,317.6 L959.3,317.5 L960.0,314.8 L960.8,309.4 L961.4,307.3 L961.6,307.4 L962.4,309.1 L963.1,309.8 L963.2,309.6 L964.0,308.8 L964.8,307.7 L965.6,306.6 L965.6,306.8 L966.4,307.2 L967.2,307.4 L968.0,308.1 L968.8,308.5 L969.0,309.2 L969.6,309.5 L970.4,309.7 L971.2,310.6 L972.0,311.5 L972.0,311.3 L972.8,320.1 L972.9,321.9 L973.6,333.1 L973.7,333.8 L974.4,330.1 L975.0,326.3 L975.2,325.3 L976.0,322.0 L976.7,320.7 L976.8,321.2 L977.6,330.4 L978.0,332.9 L978.4,332.8 L979.2,330.2 L979.7,327.7 L980.0,325.9 L980.8,318.4 L981.6,312.7 L981.8,312.5 L982.4,314.9 L983.2,322.0 L983.5,325.0 L984.0,329.8 L984.8,338.7 L985.2,342.0 L985.6,345.9 L986.4,351.4 L987.2,356.6 L987.5,358.4 L988.0,361.0 L988.8,365.2 L989.2,367.9 L989.6,371.4 L990.4,381.6 L990.4,381.7 L991.2,399.9 L991.3,400.3 L992.0,379.9 L992.1,379.3 L992.8,377.7 L993.6,377.0 L993.8,377.0 L994.4,377.6 L995.2,378.3 L996.0,379.8 L996.7,381.5 L996.8,381.5 L997.6,385.9 L998.4,390.2 L998.5,391.2 L999.2,392.4 L1000.0,393.5 L1000.8,394.8 L1001.6,395.4 L1001.9,395.3 L1002.4,394.0 L1003.2,387.2 L1004.0,382.0 L1004.2,381.4 L1004.8,381.2 L1005.6,381.5 L1006.4,381.5 L1007.2,381.7 L1007.7,381.1 L1008.0,381.4 L1008.8,377.9 L1009.4,374.7 L1009.6,373.6 L1010.4,367.5 L1010.6,366.5 L1011.2,364.3 L1012.0,361.8 L1012.8,358.7 L1012.9,358.6 L1013.6,351.9 L1014.0,349.7 L1014.4,350.8 L1015.2,354.8 L1015.8,357.0 L1016.0,356.9 L1016.8,356.6 L1017.6,355.4 L1018.4,354.3 L1018.7,353.8 L1019.2,351.7 L1020.0,346.0 L1020.4,343.5 L1020.8,340.8 L1021.6,335.2 L1022.1,332.6 L1022.4,332.0 L1023.2,330.5 L1024.0,328.7 L1024.4,328.7 L1024.8,328.2 L1025.6,327.8 L1026.4,328.1 L1027.2,328.1 L1027.9,328.0 L1028.0,327.9 L1028.8,329.3 L1029.6,331.9 L1030.2,333.0 L1030.4,333.5 L1031.2,335.3 L1031.9,335.0 L1032.0,335.4 L1032.8,332.5 L1033.6,326.7 L1034.2,324.6 L1034.4,324.7 L1035.2,324.2 L1036.0,324.2 L1036.8,323.4 L1037.6,323.0 L1038.3,323.6 L1038.4,323.3 L1039.2,325.6 L1040.0,329.0 L1040.6,330.6 L1040.8,330.9 L1041.6,331.9 L1042.4,332.6 L1042.9,332.8 L1043.2,333.9 L1044.0,337.6 L1044.3,340.2 L1044.8,350.2 L1045.2,356.1 L1045.6,352.4 L1046.3,342.7 L1046.4,342.0 L1047.2,340.3 L1048.0,339.0 L1048.1,338.9 L1048.8,338.9 L1049.6,339.1 L1050.4,339.7 L1051.0,341.2" stroke="#000" stroke-width="3.5" fill="none" stroke-linejoin="round" stroke-linecap="round"/>
<path d="M604.0,451.5 L604.8,451.7 L605.6,451.7 L606.4,451.8 L607.2,451.7 L608.0,451.9 L608.8,451.4 L609.6,451.9 L610.4,452.0 L611.2,451.6 L612.0,451.8 L612.8,451.3 L613.6,451.9 L614.4,451.9 L615.2,452.0 L616.0,451.7 L616.8,452.1 L617.6,451.9 L618.4,451.9 L619.2,451.8 L620.0,451.7 L620.8,451.5 L621.6,451.7 L622.4,451.6 L623.2,451.9 L624.0,451.4 L624.8,451.4 L625.6,451.7 L626.4,451.5 L627.2,451.8 L628.0,451.7 L628.8,451.8 L629.6,451.8 L630.0,451.6 L630.4,451.5 L631.2,451.6 L632.0,451.8 L632.8,451.6 L633.6,452.0 L634.4,452.1 L635.2,451.5 L636.0,451.8 L636.8,451.3 L637.6,451.5 L638.4,451.9 L639.2,451.4 L640.0,451.6 L640.8,451.6 L641.6,451.3 L642.4,451.4 L643.2,451.8 L644.0,451.7 L644.8,451.9 L645.6,451.6 L646.4,451.2 L647.2,451.7 L647.5,451.4 L648.0,451.9 L648.8,451.6 L649.6,452.3 L650.4,451.6 L651.2,452.0 L652.0,452.8 L652.8,452.7 L653.6,452.8 L654.4,453.1 L655.2,453.5 L656.0,453.3 L656.8,453.8 L657.6,454.4 L658.4,454.6 L659.2,454.5 L660.0,455.0 L660.8,455.4 L661.6,455.2 L662.4,456.0 L663.2,456.3 L664.0,455.9 L664.8,456.4 L665.0,456.3 L665.6,456.4 L666.4,456.7 L667.2,456.8 L668.0,457.6 L668.8,457.8 L669.6,457.6 L670.4,457.9 L671.2,458.6 L672.0,458.6 L672.8,459.3 L673.6,459.1 L674.4,459.4 L675.2,459.7 L676.0,459.7 L676.8,460.0 L677.6,460.4 L678.4,461.0 L679.2,460.5 L680.0,460.7 L680.8,460.5 L681.6,460.7 L682.0,460.6 L682.4,460.6 L683.2,460.6 L684.0,460.5 L684.8,461.0 L685.6,460.9 L686.4,460.3 L687.2,460.9 L688.0,460.7 L688.8,460.5 L689.6,460.2 L690.4,460.5 L691.2,460.5 L692.0,460.0 L692.8,459.9 L693.6,460.4 L694.4,459.9 L695.2,460.1 L696.0,459.8 L696.8,459.7 L697.6,460.0 L698.4,459.5 L699.2,460.0 L700.0,459.7 L700.8,459.9 L701.6,459.3 L702.4,459.2 L703.2,459.2 L704.0,459.2 L704.8,459.4 L705.0,458.7 L705.6,459.4 L706.4,458.9 L707.2,458.7 L708.0,458.6 L708.8,458.8 L709.6,458.6 L710.4,458.5 L711.2,458.3 L712.0,458.4 L712.8,458.0 L713.6,457.7 L714.4,457.8 L715.2,457.6 L716.0,457.5 L716.8,457.6 L717.6,457.2 L718.4,456.8 L719.2,456.6 L720.0,456.6 L720.8,456.4 L721.6,456.5 L722.4,456.4 L723.2,456.8 L724.0,456.5 L724.8,456.5 L725.6,456.2 L726.4,456.1 L727.2,455.7 L728.0,455.9 L728.8,456.2 L729.6,455.8 L729.6,456.2 L730.4,456.2 L731.2,456.0 L732.0,456.1 L732.8,456.4 L733.6,456.1 L734.4,456.2 L735.2,456.3 L736.0,456.2 L736.8,456.5 L737.6,456.4 L738.4,457.0 L739.2,456.9 L740.0,456.6 L740.0,457.3 L740.8,457.0 L741.6,457.2 L742.4,457.4 L743.2,457.4 L744.0,457.7 L744.8,458.1 L745.6,457.8 L746.4,458.1 L746.9,458.0 L747.2,458.3 L748.0,458.0 L748.8,457.2 L749.6,457.5 L750.4,457.2 L751.2,456.5 L752.0,456.4 L752.0,456.4 L752.8,456.2 L753.6,455.9 L754.4,456.3 L755.2,455.6 L756.0,455.5 L756.8,455.4 L757.6,455.2 L758.4,455.5 L759.2,455.2 L759.8,455.4 L760.0,454.9 L760.8,455.2 L761.6,455.0 L762.4,455.0 L763.2,454.5 L764.0,454.7 L764.8,454.7 L765.6,454.6 L766.4,454.8 L767.2,454.8 L768.0,454.8 L768.8,454.7 L769.6,454.3 L770.4,454.7 L771.2,454.3 L772.0,454.7 L772.8,454.3 L773.6,454.7 L774.4,453.9 L775.2,454.7 L776.0,454.4 L776.8,454.5 L777.6,454.3 L778.4,454.3 L779.2,454.2 L780.0,454.5 L780.8,454.3 L781.6,454.2 L782.4,454.2 L783.2,453.9 L784.0,454.1 L784.8,454.2 L785.6,454.0 L786.4,454.5 L787.2,454.1 L788.0,454.2 L788.8,454.3 L789.6,453.9 L790.4,454.3 L791.2,454.1 L792.0,454.2 L792.8,454.1 L793.6,454.1 L794.4,454.3 L795.2,454.1 L796.0,454.0 L796.8,454.5 L797.6,454.1 L798.4,454.1 L799.2,454.0 L800.0,454.1 L800.0,453.7 L800.8,454.2 L801.6,454.3 L802.4,453.7 L803.2,454.2 L804.0,454.0 L804.8,453.9 L805.6,453.6 L806.4,453.5 L807.2,453.8 L808.0,454.2 L808.8,454.0 L809.6,454.1 L810.4,453.5 L811.2,453.6 L812.0,453.6 L812.8,454.0 L813.6,453.5 L814.4,453.5 L815.2,453.8 L816.0,453.6 L816.8,453.3 L817.6,453.8 L818.4,453.1 L819.2,453.5 L820.0,453.5 L820.8,453.4 L821.6,453.5 L822.4,453.6 L823.2,453.2 L824.0,453.5 L824.8,453.3 L825.6,453.4 L826.4,453.2 L827.2,453.4 L828.0,453.3 L828.8,453.4 L829.0,453.2 L829.6,453.4 L830.4,453.4 L831.2,453.7 L832.0,453.5 L832.8,453.3 L833.6,453.5 L834.4,453.5 L835.2,453.3 L836.0,453.3 L836.8,453.8 L837.6,453.4 L838.4,453.4 L839.2,453.1 L840.0,453.3 L840.8,453.0 L841.6,453.3 L842.4,453.5 L843.2,453.0 L844.0,453.1 L844.8,453.3 L845.6,453.4 L846.4,453.3 L847.2,453.1 L848.0,453.1 L848.8,453.2 L849.6,453.3 L850.4,453.1 L851.2,453.1 L852.0,453.3 L852.8,453.4 L853.6,453.3 L854.4,453.1 L855.2,452.8 L856.0,453.3 L856.8,453.3 L857.6,453.1 L858.4,453.0 L859.2,453.2 L860.0,453.7 L860.8,452.9 L861.6,453.0 L862.4,453.3 L863.2,452.9 L864.0,453.1 L864.8,453.2 L865.6,453.1 L866.4,453.1 L867.2,453.2 L868.0,453.0 L868.8,453.4 L869.6,453.0 L870.0,453.0 L870.4,453.1 L871.2,453.1 L872.0,453.4 L872.8,453.2 L873.6,453.1 L874.4,453.0 L875.2,452.9 L876.0,453.3 L876.8,452.9 L877.6,453.3 L878.4,452.8 L879.2,453.2 L880.0,453.0 L880.8,452.8 L881.6,452.5 L882.4,453.0 L883.2,453.2 L884.0,453.0 L884.8,452.6 L885.6,453.4 L886.4,452.8 L887.2,452.7 L888.0,453.0 L888.8,452.7 L889.6,453.2 L890.4,452.9 L891.2,452.8 L892.0,452.9 L892.8,452.7 L893.6,452.9 L894.4,453.2 L895.2,453.1 L896.0,453.1 L896.8,453.0 L897.6,452.8 L898.4,453.1 L899.2,452.8 L900.0,453.0 L900.0,452.8 L900.8,452.7 L901.6,452.5 L902.4,452.9 L903.2,452.6 L904.0,452.8 L904.8,453.1 L905.6,453.0 L906.4,452.8 L907.2,453.0 L908.0,453.4 L908.7,453.0 L908.8,453.4 L909.6,454.4 L910.2,456.3 L910.4,457.2 L911.2,466.9 L911.6,469.2 L912.0,469.5 L912.8,469.5 L913.4,469.7 L913.6,469.2 L914.4,462.2 L914.6,461.1 L915.2,459.3 L916.0,457.7 L916.8,456.2 L917.5,456.1 L917.6,455.8 L918.4,456.4 L919.2,457.3 L920.0,458.7 L920.8,459.7 L921.6,461.3 L922.4,461.9 L923.2,462.7 L923.3,462.4 L924.0,462.8 L924.8,462.2 L925.6,461.8 L926.4,461.1 L927.2,460.5 L928.0,459.7 L928.8,459.6 L929.1,459.3 L929.6,459.8 L930.4,460.1 L931.2,461.3 L932.0,462.3 L932.8,463.4 L933.6,464.3 L934.4,465.4 L935.2,465.8 L935.7,465.9 L936.0,465.9 L936.8,465.6 L937.6,464.5 L938.4,463.3 L939.2,461.9 L940.0,460.5 L940.8,459.7 L941.6,459.1 L942.2,459.0 L942.4,458.8 L943.2,459.0 L944.0,459.5 L944.8,460.6 L945.6,461.2 L946.4,462.7 L947.2,463.2 L948.0,464.2 L948.8,464.9 L949.6,465.5 L950.2,465.8 L950.4,465.3 L951.2,465.3 L952.0,465.9 L952.8,465.9 L953.6,465.9 L954.4,465.4 L954.6,466.0 L955.2,465.5 L956.0,466.1 L956.8,465.8 L957.6,466.1 L958.2,465.9 L958.4,466.2 L959.2,466.0 L960.0,465.0 L960.8,463.9 L961.6,462.8 L962.4,461.8 L963.2,461.0 L963.3,461.0 L964.0,461.0 L964.8,460.8 L965.6,461.0 L966.4,460.8 L967.2,460.7 L968.0,460.7 L968.8,460.6 L969.6,460.4 L970.4,460.6 L971.2,460.5 L971.3,460.7 L972.0,461.0 L972.8,463.2 L973.6,464.4 L974.2,464.8 L974.4,465.0 L975.2,464.3 L976.0,463.8 L976.8,463.9 L977.1,464.3 L977.6,464.7 L978.4,466.3 L978.6,466.8 L979.2,466.3 L980.0,465.1 L980.8,462.6 L981.6,461.2 L982.2,460.3 L982.4,460.5 L983.2,462.4 L984.0,465.1 L984.4,465.6 L984.8,466.6 L985.6,468.5 L986.4,469.1 L987.2,470.6 L987.3,470.2 L988.0,471.9 L988.8,473.2 L989.5,474.4 L989.6,475.2 L990.4,478.0 L991.0,479.2 L991.2,479.6 L992.0,478.0 L992.8,475.2 L993.6,473.2 L994.4,471.1 L994.6,471.2 L995.2,471.6 L996.0,473.4 L996.8,475.8 L997.5,477.2 L997.6,477.5 L998.4,478.7 L999.2,479.8 L1000.0,480.7 L1000.8,481.7 L1001.6,482.1 L1001.9,482.2 L1002.4,481.9 L1003.2,480.9 L1004.0,479.1 L1004.8,478.8 L1004.8,478.8 L1005.6,478.7 L1006.4,479.0 L1007.2,478.9 L1008.0,479.6 L1008.4,479.4 L1008.8,479.2 L1009.6,477.8 L1010.4,475.9 L1011.2,474.1 L1011.3,473.9 L1012.0,473.3 L1012.8,472.8 L1013.6,471.7 L1014.4,471.3 L1015.0,471.3 L1015.2,471.0 L1016.0,471.9 L1016.8,472.9 L1017.6,473.7 L1017.9,473.5 L1018.4,473.5 L1019.2,472.5 L1020.0,471.3 L1020.8,469.6 L1021.6,469.2 L1022.4,467.9 L1023.0,467.5 L1023.2,467.6 L1024.0,467.7 L1024.8,467.6 L1025.6,467.6 L1026.4,467.6 L1027.2,468.0 L1028.0,467.2 L1028.8,467.6 L1028.8,467.0 L1029.6,468.1 L1030.4,469.3 L1031.2,470.5 L1031.7,470.4 L1032.0,470.6 L1032.8,471.0 L1033.6,470.3 L1034.4,470.8 L1035.2,470.9 L1036.0,470.7 L1036.8,471.2 L1037.6,471.1 L1038.3,471.6 L1038.4,471.4 L1039.2,471.7 L1040.0,472.3 L1040.8,473.0 L1041.6,473.7 L1042.4,474.5 L1043.2,476.2 L1043.4,476.5 L1044.0,477.9 L1044.8,480.9 L1045.5,482.0 L1045.6,482.1 L1046.4,479.5 L1047.0,478.0 L1047.2,477.9 L1048.0,478.1 L1048.8,478.0 L1049.6,478.4 L1050.4,479.5 L1050.6,479.6" stroke="#000" stroke-width="3.5" fill="none" stroke-linejoin="round" stroke-linecap="round"/>
<path d="M604.0,622.6 L604.8,622.8 L605.6,622.6 L606.4,622.7 L607.2,622.6 L608.0,622.6 L608.8,622.5 L609.6,622.7 L610.4,622.7 L611.2,622.3 L612.0,622.6 L612.8,622.7 L613.6,622.5 L614.4,622.1 L615.2,622.5 L616.0,622.1 L616.8,622.6 L617.6,622.3 L618.4,622.7 L619.2,622.3 L620.0,622.7 L620.8,622.8 L621.6,622.3 L622.4,622.6 L623.2,622.8 L624.0,622.3 L624.8,622.1 L625.6,622.5 L626.4,622.4 L627.2,622.5 L628.0,622.6 L628.8,622.1 L629.6,622.7 L630.4,622.4 L631.2,622.5 L632.0,622.8 L632.8,622.6 L633.6,622.5 L634.4,622.1 L635.2,622.8 L636.0,622.3 L636.8,622.6 L637.6,622.4 L638.4,622.7 L639.2,622.2 L640.0,622.4 L640.8,622.5 L641.6,622.3 L642.4,622.0 L643.2,622.7 L644.0,622.6 L644.8,622.3 L645.6,622.5 L646.4,622.6 L647.2,622.6 L648.0,622.8 L648.8,622.5 L649.6,622.4 L650.4,622.2 L651.2,622.5 L652.0,622.4 L652.8,622.7 L653.6,622.2 L654.4,622.4 L655.2,622.7 L656.0,622.7 L656.8,622.3 L657.6,622.6 L658.4,622.2 L659.2,622.8 L660.0,622.2 L660.8,622.6 L661.6,622.4 L662.4,622.0 L663.2,622.3 L664.0,622.8 L664.8,622.5 L665.6,622.1 L666.4,622.1 L667.2,622.5 L668.0,622.4 L668.8,622.4 L669.6,622.4 L670.4,622.5 L671.2,622.4 L672.0,622.3 L672.8,621.9 L673.6,622.3 L674.4,622.4 L675.2,622.6 L676.0,622.7 L676.8,622.4 L677.6,622.7 L678.4,622.4 L679.2,622.7 L680.0,622.4 L680.8,622.5 L681.6,622.1 L682.4,622.3 L683.2,622.6 L684.0,622.6 L684.8,622.5 L685.6,622.3 L686.4,622.2 L687.2,622.2 L688.0,622.3 L688.8,622.4 L689.6,622.1 L690.4,622.3 L691.2,622.2 L692.0,621.7 L692.8,622.0 L693.6,622.3 L694.4,622.2 L695.2,622.4 L696.0,621.7 L696.8,622.4 L697.6,622.1 L698.4,622.2 L699.2,622.0 L700.0,622.4 L700.0,622.2 L700.8,622.5 L701.6,622.0 L702.4,622.3 L703.2,622.4 L704.0,622.6 L704.8,622.5 L705.6,622.4 L706.4,622.4 L707.2,622.0 L708.0,622.0 L708.8,622.7 L709.6,622.6 L710.4,622.2 L711.2,621.9 L712.0,622.5 L712.8,622.4 L713.6,622.1 L714.4,622.3 L715.2,622.2 L716.0,622.4 L716.8,622.2 L717.6,622.5 L718.4,622.3 L719.2,622.4 L720.0,622.0 L720.8,622.3 L721.6,621.7 L722.4,622.4 L723.2,621.8 L724.0,622.2 L724.8,622.2 L725.6,622.4 L726.4,622.1 L727.2,622.4 L728.0,622.3 L728.8,622.0 L729.6,622.2 L730.4,622.2 L731.2,622.2 L732.0,621.7 L732.8,622.1 L733.6,622.0 L734.4,621.9 L735.2,621.7 L736.0,622.1 L736.8,622.1 L737.6,621.7 L738.4,621.7 L739.2,622.0 L740.0,622.1 L740.8,622.0 L741.6,621.7 L742.4,621.9 L743.2,622.0 L744.0,621.8 L744.8,621.8 L745.6,622.1 L746.4,622.2 L747.2,622.2 L748.0,622.1 L748.8,622.0 L749.6,622.1 L750.4,622.0 L751.2,621.8 L752.0,622.2 L752.8,622.0 L753.6,621.7 L754.4,621.7 L755.2,621.8 L756.0,621.9 L756.8,621.5 L757.6,621.7 L758.4,622.0 L759.2,621.8 L760.0,622.1 L760.8,621.9 L761.6,621.3 L762.4,621.2 L763.2,622.2 L764.0,621.6 L764.8,621.4 L765.6,621.7 L766.4,621.6 L767.2,621.8 L768.0,621.8 L768.8,621.6 L769.6,622.1 L770.4,621.6 L771.2,621.6 L772.0,621.3 L772.8,621.7 L773.6,621.6 L774.4,621.7 L775.2,621.7 L776.0,621.7 L776.8,621.8 L777.6,621.4 L778.4,621.2 L779.2,621.3 L780.0,621.5 L780.8,622.1 L781.6,621.6 L782.4,621.8 L783.2,621.7 L784.0,621.4 L784.8,621.6 L785.6,621.7 L786.4,621.2 L787.2,621.3 L788.0,621.8 L788.8,621.5 L789.6,621.5 L790.4,621.4 L791.2,621.1 L792.0,621.6 L792.8,621.3 L793.6,621.3 L794.4,621.8 L795.2,621.8 L796.0,621.3 L796.8,621.1 L797.6,621.5 L798.4,621.2 L799.2,621.5 L800.0,621.1 L800.8,621.5 L801.6,621.3 L802.4,621.7 L803.2,621.6 L804.0,621.8 L804.8,621.4 L805.6,621.2 L806.4,621.2 L807.2,621.2 L808.0,621.2 L808.8,621.4 L809.6,621.4 L810.4,621.2 L811.2,621.2 L812.0,621.4 L812.8,621.0 L813.6,621.3 L814.4,621.0 L815.2,621.2 L816.0,621.6 L816.8,621.2 L817.6,621.4 L818.4,621.4 L819.2,621.5 L820.0,621.2 L820.8,621.3 L821.6,621.0 L822.4,621.4 L823.2,621.3 L824.0,621.3 L824.6,621.3 L824.8,621.0 L825.6,621.7 L826.4,621.0 L827.2,621.2 L828.0,621.2 L828.8,621.4 L829.6,620.8 L830.4,621.7 L831.2,621.1 L832.0,621.2 L832.8,621.2 L833.6,621.2 L834.4,621.7 L835.2,621.8 L836.0,621.6 L836.8,620.8 L837.6,621.4 L838.4,621.5 L839.2,621.1 L840.0,621.6 L840.8,621.5 L841.6,621.1 L842.4,621.2 L843.2,621.2 L844.0,621.0 L844.8,621.0 L845.6,621.5 L846.4,621.8 L847.2,621.6 L848.0,621.5 L848.8,621.8 L849.6,621.7 L850.4,621.4 L851.2,621.3 L852.0,621.6 L852.8,620.9 L853.6,621.1 L854.4,621.2 L855.2,621.3 L856.0,621.9 L856.8,621.4 L857.6,621.1 L858.4,621.4 L859.2,621.0 L860.0,621.5 L860.8,622.0 L861.6,621.7 L862.4,621.7 L863.2,621.3 L864.0,621.3 L864.8,621.5 L865.6,621.2 L866.4,621.0 L867.2,621.6 L868.0,621.3 L868.8,621.1 L869.6,621.3 L870.4,621.6 L871.2,621.4 L872.0,621.3 L872.8,621.2 L873.6,621.2 L874.4,621.6 L875.2,621.4 L876.0,621.5 L876.8,621.4 L877.6,621.4 L878.4,621.2 L879.2,621.3 L880.0,621.6 L880.8,621.5 L881.6,621.5 L882.4,621.6 L883.2,622.0 L884.0,621.4 L884.8,621.7 L885.6,621.1 L886.4,621.6 L887.2,621.4 L888.0,621.3 L888.8,621.5 L889.6,621.4 L890.4,621.1 L891.2,621.5 L892.0,621.5 L892.8,621.7 L893.6,621.6 L894.4,621.8 L895.2,621.4 L896.0,622.0 L896.8,621.7 L897.6,621.7 L898.4,621.6 L899.2,621.5 L900.0,621.7 L900.8,621.8 L901.6,622.0 L902.4,621.8 L903.2,621.6 L904.0,621.7 L904.8,621.6 L905.6,621.6 L906.4,621.7 L907.2,622.1 L908.0,621.4 L908.8,621.6 L909.6,621.6 L910.4,621.4 L911.2,622.0 L912.0,621.5 L912.8,621.9 L913.6,622.2 L914.4,621.6 L915.2,621.8 L916.0,621.4 L916.8,621.7 L917.6,621.5 L918.4,621.8 L919.2,621.4 L920.0,621.6 L920.8,621.6 L921.6,621.7 L922.4,622.0 L923.2,622.0 L924.0,621.7 L924.8,622.1 L925.6,621.9 L926.4,622.0 L927.2,622.0 L928.0,622.2 L928.8,621.8 L929.6,621.4 L930.4,621.9 L931.2,621.7 L932.0,621.6 L932.8,621.6 L933.6,622.1 L934.4,622.0 L935.2,621.5 L936.0,621.6 L936.8,621.6 L937.6,621.9 L938.4,622.2 L939.2,621.8 L940.0,622.1 L940.8,622.0 L941.6,622.0 L942.4,622.2 L943.2,621.9 L944.0,621.8 L944.8,621.8 L945.6,622.0 L945.6,622.1 L946.4,621.7 L947.2,621.8 L948.0,621.7 L948.8,622.1 L949.6,622.2 L950.4,621.7 L951.2,622.4 L952.0,622.0 L952.8,622.1 L953.6,622.0 L954.4,622.2 L955.2,622.1 L956.0,622.1 L956.8,622.3 L957.6,622.3 L958.4,622.2 L959.2,622.1 L960.0,622.2 L960.8,622.5 L961.6,622.2 L962.4,622.1 L963.2,622.4 L964.0,622.7 L964.8,622.6 L965.6,622.2 L966.4,622.6 L967.2,622.8 L968.0,622.7 L968.8,622.2 L969.6,622.4 L970.4,622.4 L971.2,622.9 L972.0,622.7 L972.8,622.6 L973.6,623.0 L974.4,622.8 L975.2,622.9 L976.0,623.1 L976.8,623.2 L977.6,622.8 L978.4,622.6 L979.2,622.7 L980.0,623.0 L980.8,623.0 L981.6,623.0 L982.4,623.3 L983.2,623.1 L984.0,622.9 L984.8,623.5 L985.6,622.9 L986.4,622.8 L987.2,623.5 L988.0,623.6 L988.8,623.6 L989.6,623.2 L990.4,623.6 L991.2,623.5 L992.0,623.8 L992.8,623.8 L993.6,623.5 L994.4,623.5 L995.2,623.4 L996.0,623.6 L996.8,623.5 L997.6,623.9 L998.4,624.0 L999.2,624.3 L1000.0,624.0 L1000.0,623.8 L1000.8,623.8 L1001.6,624.1 L1002.4,623.6 L1003.2,623.8 L1004.0,624.0 L1004.8,624.0 L1005.6,623.8 L1006.4,624.4 L1007.2,624.2 L1008.0,624.2 L1008.8,624.3 L1009.6,624.3 L1010.4,624.3 L1011.2,624.6 L1012.0,624.2 L1012.8,624.4 L1013.6,624.2 L1014.4,624.6 L1015.2,624.6 L1016.0,624.0 L1016.8,624.5 L1017.6,624.5 L1018.4,624.7 L1019.2,624.5 L1020.0,624.7 L1020.8,624.5 L1021.6,624.6 L1022.4,624.3 L1023.2,624.7 L1024.0,624.8 L1024.8,624.6 L1025.6,625.0 L1026.4,625.1 L1027.2,625.1 L1028.0,624.9 L1028.8,625.0 L1029.6,625.2 L1030.4,625.0 L1031.2,625.1 L1032.0,625.0 L1032.8,625.2 L1033.6,625.4 L1034.4,625.1 L1035.2,625.3 L1036.0,625.1 L1036.8,625.1 L1037.6,625.3 L1038.4,625.3 L1039.2,625.4 L1040.0,625.5 L1040.8,625.2 L1041.6,625.5 L1042.4,625.6 L1043.2,625.6 L1044.0,625.9 L1044.8,625.1 L1045.6,625.9 L1046.4,626.0 L1047.2,625.8 L1048.0,625.3 L1048.8,626.0 L1049.6,625.7 L1050.4,626.2 L1051.0,626.1" stroke="#000" stroke-width="3.5" fill="none" stroke-linejoin="round" stroke-linecap="round"/>
<line x1="748.8" y1="140" x2="748.8" y2="155.3" stroke="#222" stroke-width="2.0"/>
<path d="M748.8,132 L745.5,143 L752.0999999999999,143 Z" fill="#000"/>
<line x1="761" y1="142.5" x2="761" y2="175.8" stroke="#333" stroke-width="1.6"/>
<path d="M761,134.5 L757.7,145.5 L764.3,145.5 Z" fill="#000"/>
<line x1="771.7" y1="130" x2="771.7" y2="144.5" stroke="#444" stroke-width="1.3"/>
<path d="M771.7,122 L768.4000000000001,133 L775.0,133 Z" fill="#000"/>
<line x1="911.9" y1="198.5" x2="911.9" y2="220.6" stroke="#222" stroke-width="2.0"/>
<path d="M911.9,190.5 L908.6,201.5 L915.1999999999999,201.5 Z" fill="#000"/>
<line x1="923.4" y1="141.8" x2="923.4" y2="206.9" stroke="#555" stroke-width="1.3"/>
<path d="M923.4,133.8 L920.1,144.8 L926.6999999999999,144.8 Z" fill="#000"/>
<line x1="934.6" y1="144.2" x2="934.6" y2="189.3" stroke="#555" stroke-width="1.3"/>
<path d="M934.6,136.2 L931.3000000000001,147.2 L937.9,147.2 Z" fill="#000"/>
<line x1="949.7" y1="161.4" x2="949.7" y2="173.6" stroke="#999" stroke-width="1.1"/>
<path d="M949.7,153.4 L946.4000000000001,164.4 L953.0,164.4 Z" fill="#000"/>
<line x1="974.4" y1="168" x2="974.4" y2="205" stroke="#999" stroke-width="1.1"/>
<path d="M974.4,160 L971.1,171 L977.6999999999999,171 Z" fill="#000"/>
<line x1="990.4" y1="223" x2="990.4" y2="254.5" stroke="#555" stroke-width="1.3"/>
<path d="M990.4,215 L987.1,226 L993.6999999999999,226 Z" fill="#000"/>
<line x1="999.1" y1="214.8" x2="999.1" y2="232" stroke="#555" stroke-width="1.3"/>
<path d="M999.1,206.8 L995.8000000000001,217.8 L1002.4,217.8 Z" fill="#000"/>
<line x1="1017.6" y1="189.7" x2="1017.6" y2="209.5" stroke="#444" stroke-width="1.5"/>
<path d="M1017.6,181.7 L1014.3000000000001,192.7 L1020.9,192.7 Z" fill="#000"/>
<line x1="1031.8" y1="178.6" x2="1031.8" y2="198.3" stroke="#999" stroke-width="1.1"/>
<path d="M1031.8,170.6 L1028.5,181.6 L1035.1,181.6 Z" fill="#000"/>
<line x1="1045.3" y1="193" x2="1045.3" y2="236.5" stroke="#555" stroke-width="1.3"/>
<path d="M1045.3,185 L1042.0,196 L1048.6,196 Z" fill="#000"/>
<g font-family="Liberation Sans" font-weight="bold" font-size="13.9" fill="#000">
<text x="723.6" y="170.0">2930</text>
<text x="744.5" y="192.7">2855</text>
<text x="762.4" y="162.4">2760</text>
<text x="892.9" y="236.6">1730</text>
<text x="913.8" y="220.8">1640</text>
<text x="926.8" y="206.8">1560</text>
<text x="938.6" y="189.3">1450</text>
<text x="957.4" y="216.6">1270</text>
<text x="975.2" y="273.7">1150</text>
<text x="992.4" y="247.9">1095</text>
<text x="1006.0" y="225.5">950</text>
<text x="1019.4" y="211.5">840</text>
<text x="1026.2" y="247.9">755</text>
</g>
</svg>
</body></html>
